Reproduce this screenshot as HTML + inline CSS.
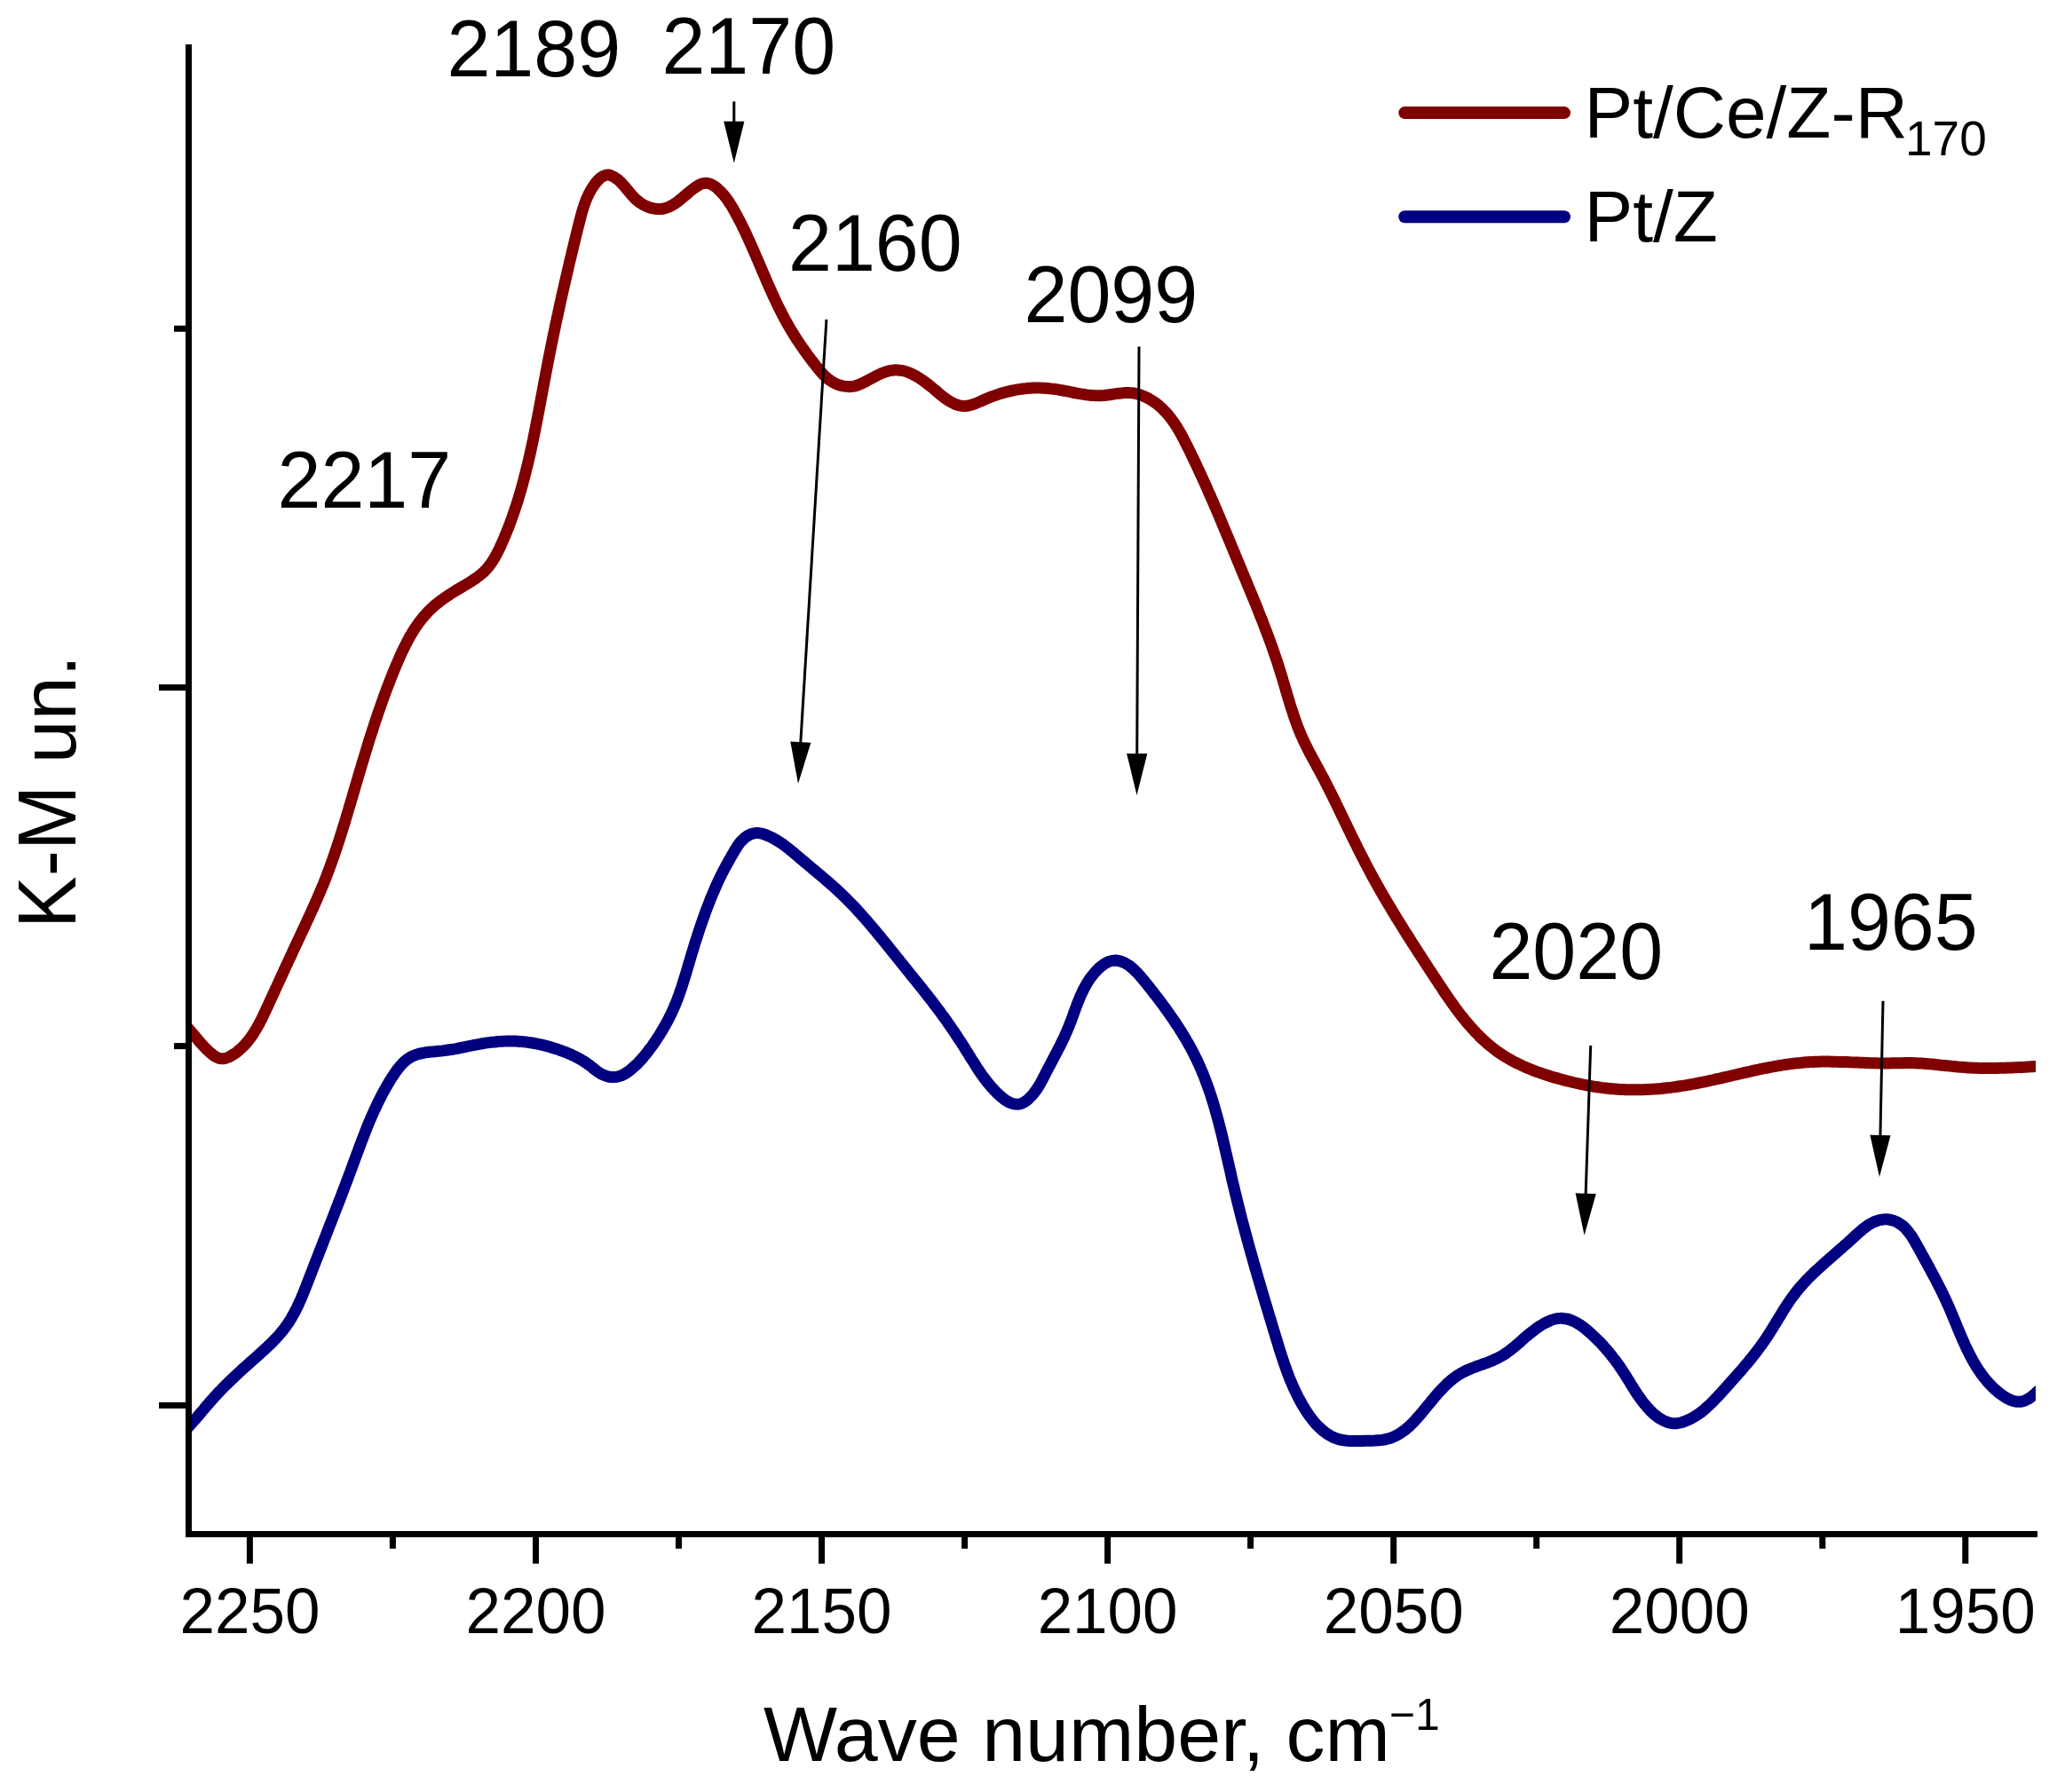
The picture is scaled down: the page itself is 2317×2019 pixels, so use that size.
<!DOCTYPE html>
<html lang="en"><head><meta charset="utf-8"><title>DRIFTS spectra</title>
<style>
html,body{margin:0;padding:0;background:#fff;}
svg{display:block;}
text{font-family:"Liberation Sans",Arial,Helvetica,sans-serif;fill:#000;}
</style></head><body>
<svg width="2317" height="2019" viewBox="0 0 2317 2019">
<rect x="0" y="0" width="2317" height="2019" fill="#fff"/>
<defs><clipPath id="plot"><rect x="213" y="0" width="2080" height="1728"/></clipPath></defs>

<g clip-path="url(#plot)" fill="none" stroke-width="13" stroke-linejoin="round">
<path d="M200.0 1147.1C200.5 1147.5 202.1 1148.8 203.1 1149.7C204.1 1150.6 205.0 1151.5 206.0 1152.5C207.0 1153.4 207.9 1154.3 208.8 1155.3C209.7 1156.2 210.6 1157.2 211.5 1158.2C212.4 1159.2 213.3 1160.1 214.2 1161.1C215.0 1162.1 215.9 1163.1 216.7 1164.1C217.6 1165.2 218.5 1166.2 219.3 1167.2C220.2 1168.2 221.0 1169.2 221.9 1170.2C222.8 1171.3 223.6 1172.3 224.5 1173.3C225.4 1174.3 226.3 1175.3 227.2 1176.4C228.1 1177.4 229.1 1178.4 230.0 1179.4C231.0 1180.4 231.9 1181.4 232.9 1182.4C233.9 1183.4 235.0 1184.4 236.0 1185.4C237.1 1186.3 238.2 1187.3 239.3 1188.1C240.4 1189.0 241.5 1189.8 242.7 1190.4C243.8 1191.1 245.0 1191.7 246.2 1192.1C247.3 1192.5 248.5 1192.7 249.8 1192.8C251.0 1192.9 252.2 1192.7 253.4 1192.5C254.7 1192.2 255.9 1191.8 257.1 1191.2C258.3 1190.7 259.5 1190.1 260.7 1189.4C261.9 1188.7 263.0 1187.9 264.2 1187.2C265.3 1186.4 266.4 1185.6 267.4 1184.8C268.5 1183.9 269.5 1183.1 270.5 1182.2C271.5 1181.3 272.5 1180.4 273.4 1179.5C274.3 1178.6 275.3 1177.6 276.1 1176.6C277.0 1175.6 277.9 1174.6 278.7 1173.6C279.6 1172.6 280.4 1171.6 281.2 1170.5C282.0 1169.4 282.8 1168.4 283.5 1167.3C284.3 1166.2 285.0 1165.1 285.8 1163.9C286.5 1162.8 287.2 1161.7 287.9 1160.5C288.6 1159.4 289.2 1158.2 289.9 1157.0C290.6 1155.9 291.2 1154.7 291.9 1153.5C292.5 1152.3 293.1 1151.1 293.7 1149.9C294.3 1148.7 295.0 1147.5 295.6 1146.2C296.2 1145.0 296.7 1143.8 297.3 1142.6C297.9 1141.3 298.5 1140.1 299.1 1138.9C299.6 1137.7 300.2 1136.4 300.8 1135.2C301.4 1134.0 301.9 1132.7 302.5 1131.5C303.1 1130.3 303.6 1129.1 304.2 1127.8C304.7 1126.6 305.3 1125.4 305.9 1124.2C306.4 1122.9 307.0 1121.7 307.5 1120.5C308.1 1119.3 308.7 1118.1 309.2 1116.8C309.8 1115.6 310.3 1114.4 310.9 1113.2C311.5 1112.0 312.0 1110.8 312.6 1109.6C313.1 1108.3 313.7 1107.1 314.2 1105.9C314.8 1104.7 315.3 1103.5 315.9 1102.3C316.5 1101.1 317.0 1099.9 317.6 1098.7C318.1 1097.5 318.7 1096.3 319.2 1095.1C319.8 1093.8 320.3 1092.6 320.9 1091.4C321.4 1090.2 322.0 1089.0 322.5 1087.8C323.1 1086.6 323.7 1085.4 324.2 1084.2C324.8 1083.0 325.3 1081.8 325.9 1080.6C326.4 1079.4 327.0 1078.2 327.6 1077.0C328.1 1075.8 328.7 1074.6 329.2 1073.4C329.8 1072.2 330.4 1071.0 330.9 1069.7C331.5 1068.5 332.0 1067.3 332.6 1066.1C333.2 1064.9 333.7 1063.7 334.3 1062.5C334.9 1061.3 335.4 1060.1 336.0 1058.9C336.6 1057.7 337.1 1056.5 337.7 1055.3C338.3 1054.1 338.8 1052.9 339.4 1051.6C340.0 1050.4 340.5 1049.2 341.1 1048.0C341.7 1046.8 342.2 1045.6 342.8 1044.4C343.4 1043.2 343.9 1042.0 344.5 1040.7C345.1 1039.5 345.6 1038.3 346.2 1037.1C346.7 1035.9 347.3 1034.7 347.9 1033.5C348.4 1032.2 349.0 1031.0 349.5 1029.8C350.1 1028.6 350.7 1027.4 351.2 1026.1C351.8 1024.9 352.3 1023.7 352.9 1022.5C353.4 1021.3 354.0 1020.0 354.5 1018.8C355.0 1017.6 355.6 1016.4 356.1 1015.1C356.7 1013.9 357.2 1012.7 357.7 1011.5C358.3 1010.2 358.8 1009.0 359.3 1007.8C359.9 1006.5 360.4 1005.3 360.9 1004.1C361.4 1002.8 361.9 1001.6 362.4 1000.4C363.0 999.1 363.5 997.9 364.0 996.7C364.5 995.4 365.0 994.2 365.5 992.9C366.0 991.7 366.5 990.4 367.0 989.2C367.5 988.0 367.9 986.7 368.4 985.5C368.9 984.2 369.4 983.0 369.8 981.7C370.3 980.5 370.8 979.2 371.2 978.0C371.7 976.7 372.2 975.4 372.6 974.2C373.1 972.9 373.5 971.7 374.0 970.4C374.4 969.2 374.9 967.9 375.3 966.6C375.8 965.4 376.2 964.1 376.6 962.9C377.1 961.6 377.5 960.3 377.9 959.1C378.3 957.8 378.8 956.5 379.2 955.3C379.6 954.0 380.0 952.7 380.4 951.5C380.9 950.2 381.3 948.9 381.7 947.6C382.1 946.4 382.5 945.1 382.9 943.8C383.3 942.6 383.7 941.3 384.1 940.0C384.5 938.7 384.9 937.5 385.3 936.2C385.7 934.9 386.1 933.6 386.5 932.4C386.9 931.1 387.3 929.8 387.7 928.5C388.1 927.2 388.5 926.0 388.9 924.7C389.2 923.4 389.6 922.1 390.0 920.8C390.4 919.6 390.8 918.3 391.2 917.0C391.5 915.7 391.9 914.4 392.3 913.2C392.7 911.9 393.1 910.6 393.4 909.3C393.8 908.0 394.2 906.8 394.6 905.5C395.0 904.2 395.3 902.9 395.7 901.6C396.1 900.3 396.5 899.1 396.9 897.8C397.2 896.5 397.6 895.2 398.0 893.9C398.4 892.7 398.7 891.4 399.1 890.1C399.5 888.8 399.9 887.5 400.2 886.2C400.6 885.0 401.0 883.7 401.4 882.4C401.7 881.1 402.1 879.8 402.5 878.5C402.9 877.3 403.3 876.0 403.6 874.7C404.0 873.4 404.4 872.1 404.8 870.9C405.2 869.6 405.5 868.3 405.9 867.0C406.3 865.7 406.7 864.5 407.1 863.2C407.4 861.9 407.8 860.6 408.2 859.3C408.6 858.1 409.0 856.8 409.4 855.5C409.8 854.2 410.1 852.9 410.5 851.7C410.9 850.4 411.3 849.1 411.7 847.8C412.1 846.5 412.5 845.3 412.9 844.0C413.3 842.7 413.6 841.4 414.0 840.2C414.4 838.9 414.8 837.6 415.2 836.3C415.6 835.1 416.0 833.8 416.4 832.5C416.8 831.2 417.2 830.0 417.6 828.7C418.0 827.4 418.4 826.1 418.9 824.9C419.3 823.6 419.7 822.3 420.1 821.1C420.5 819.8 420.9 818.5 421.3 817.2C421.7 816.0 422.2 814.7 422.6 813.4C423.0 812.2 423.4 810.9 423.8 809.6C424.3 808.4 424.7 807.1 425.1 805.8C425.5 804.6 426.0 803.3 426.4 802.0C426.8 800.8 427.3 799.5 427.7 798.3C428.2 797.0 428.6 795.7 429.0 794.5C429.5 793.2 429.9 791.9 430.4 790.7C430.8 789.4 431.3 788.2 431.7 786.9C432.2 785.7 432.6 784.4 433.1 783.1C433.6 781.9 434.0 780.6 434.5 779.4C434.9 778.1 435.4 776.9 435.9 775.6C436.4 774.4 436.8 773.1 437.3 771.9C437.8 770.6 438.3 769.4 438.8 768.1C439.2 766.9 439.7 765.6 440.2 764.4C440.7 763.1 441.2 761.9 441.7 760.6C442.2 759.4 442.7 758.2 443.2 756.9C443.7 755.7 444.2 754.4 444.7 753.2C445.2 752.0 445.8 750.7 446.3 749.5C446.8 748.2 447.3 747.0 447.9 745.8C448.4 744.5 448.9 743.3 449.5 742.1C450.0 740.8 450.5 739.6 451.1 738.4C451.6 737.2 452.2 736.0 452.8 734.7C453.3 733.5 453.9 732.3 454.5 731.1C455.1 729.9 455.7 728.7 456.3 727.5C456.9 726.3 457.5 725.1 458.1 724.0C458.7 722.8 459.3 721.6 460.0 720.4C460.6 719.3 461.2 718.1 461.9 716.9C462.5 715.8 463.2 714.7 463.9 713.5C464.6 712.4 465.3 711.3 466.0 710.1C466.7 709.0 467.4 707.9 468.1 706.8C468.9 705.7 469.6 704.6 470.4 703.6C471.1 702.5 471.9 701.4 472.7 700.4C473.5 699.3 474.3 698.3 475.1 697.3C476.0 696.2 476.8 695.2 477.7 694.2C478.5 693.2 479.4 692.2 480.3 691.3C481.2 690.3 482.1 689.3 483.0 688.4C483.9 687.5 484.9 686.5 485.9 685.6C486.8 684.7 487.8 683.8 488.8 682.9C489.8 682.1 490.8 681.2 491.9 680.3C492.9 679.5 494.0 678.7 495.0 677.8C496.1 677.0 497.2 676.2 498.3 675.4C499.4 674.6 500.5 673.8 501.6 673.0C502.8 672.3 503.9 671.5 505.0 670.8C506.2 670.0 507.3 669.2 508.5 668.5C509.6 667.8 510.8 667.0 512.0 666.3C513.1 665.6 514.3 664.9 515.5 664.2C516.7 663.5 517.8 662.8 519.0 662.1C520.2 661.4 521.4 660.7 522.5 660.0C523.7 659.3 524.9 658.6 526.1 657.9C527.2 657.2 528.4 656.5 529.5 655.8C530.7 655.1 531.8 654.3 532.9 653.6C534.0 652.9 535.2 652.1 536.2 651.4C537.3 650.6 538.4 649.8 539.4 649.0C540.5 648.2 541.5 647.4 542.5 646.5C543.5 645.7 544.4 644.8 545.4 643.9C546.3 643.0 547.2 642.0 548.1 641.1C548.9 640.1 549.8 639.1 550.6 638.1C551.4 637.1 552.2 636.0 552.9 635.0C553.7 633.9 554.4 632.8 555.1 631.7C555.9 630.6 556.5 629.4 557.2 628.3C557.9 627.2 558.5 626.0 559.2 624.8C559.8 623.6 560.4 622.4 561.0 621.2C561.6 620.0 562.2 618.8 562.8 617.6C563.4 616.4 563.9 615.2 564.5 613.9C565.0 612.7 565.6 611.5 566.1 610.2C566.7 609.0 567.2 607.8 567.7 606.5C568.2 605.3 568.8 604.0 569.3 602.8C569.8 601.5 570.3 600.3 570.8 599.1C571.3 597.8 571.8 596.6 572.3 595.3C572.8 594.1 573.3 592.8 573.7 591.6C574.2 590.3 574.7 589.0 575.1 587.8C575.6 586.5 576.1 585.3 576.5 584.0C577.0 582.7 577.4 581.5 577.9 580.2C578.3 579.0 578.7 577.7 579.2 576.4C579.6 575.2 580.0 573.9 580.4 572.6C580.9 571.4 581.3 570.1 581.7 568.8C582.1 567.5 582.5 566.3 582.9 565.0C583.3 563.7 583.7 562.4 584.1 561.2C584.5 559.9 584.8 558.6 585.2 557.3C585.6 556.0 586.0 554.8 586.4 553.5C586.7 552.2 587.1 550.9 587.5 549.6C587.8 548.3 588.2 547.0 588.5 545.8C588.9 544.5 589.2 543.2 589.6 541.9C589.9 540.6 590.3 539.3 590.6 538.0C590.9 536.7 591.3 535.4 591.6 534.1C591.9 532.8 592.3 531.6 592.6 530.3C592.9 529.0 593.2 527.7 593.5 526.4C593.9 525.1 594.2 523.8 594.5 522.5C594.8 521.2 595.1 519.9 595.4 518.6C595.7 517.3 596.0 516.0 596.3 514.7C596.6 513.4 596.9 512.1 597.2 510.8C597.5 509.5 597.8 508.1 598.1 506.8C598.3 505.5 598.6 504.2 598.9 502.9C599.2 501.6 599.5 500.3 599.7 499.0C600.0 497.7 600.3 496.4 600.6 495.1C600.8 493.8 601.1 492.5 601.4 491.1C601.6 489.8 601.9 488.5 602.2 487.2C602.4 485.9 602.7 484.6 603.0 483.3C603.2 482.0 603.5 480.7 603.7 479.3C604.0 478.0 604.3 476.7 604.5 475.4C604.8 474.1 605.0 472.8 605.3 471.5C605.5 470.2 605.8 468.8 606.0 467.5C606.3 466.2 606.5 464.9 606.8 463.6C607.0 462.3 607.3 461.0 607.5 459.6C607.8 458.3 608.0 457.0 608.3 455.7C608.5 454.4 608.8 453.1 609.0 451.8C609.2 450.4 609.5 449.1 609.7 447.8C610.0 446.5 610.2 445.2 610.5 443.9C610.7 442.5 611.0 441.2 611.2 439.9C611.5 438.6 611.7 437.3 611.9 436.0C612.2 434.7 612.4 433.3 612.7 432.0C612.9 430.7 613.2 429.4 613.4 428.1C613.7 426.8 613.9 425.5 614.2 424.2C614.4 422.8 614.7 421.5 614.9 420.2C615.1 418.9 615.4 417.6 615.7 416.3C615.9 415.0 616.2 413.7 616.4 412.3C616.7 411.0 616.9 409.7 617.2 408.4C617.4 407.1 617.7 405.8 617.9 404.5C618.2 403.2 618.5 401.9 618.7 400.6C619.0 399.3 619.2 397.9 619.5 396.6C619.8 395.3 620.0 394.0 620.3 392.7C620.5 391.4 620.8 390.1 621.1 388.8C621.3 387.5 621.6 386.2 621.9 384.9C622.1 383.6 622.4 382.3 622.7 381.0C622.9 379.6 623.2 378.3 623.5 377.0C623.8 375.7 624.0 374.4 624.3 373.1C624.6 371.8 624.8 370.5 625.1 369.2C625.4 367.9 625.7 366.6 625.9 365.3C626.2 364.0 626.5 362.7 626.8 361.4C627.1 360.1 627.3 358.8 627.6 357.5C627.9 356.2 628.2 354.9 628.5 353.6C628.7 352.3 629.0 351.0 629.3 349.7C629.6 348.4 629.9 347.0 630.2 345.7C630.4 344.4 630.7 343.1 631.0 341.8C631.3 340.5 631.6 339.2 631.9 337.9C632.2 336.6 632.5 335.3 632.7 334.0C633.0 332.7 633.3 331.4 633.6 330.1C633.9 328.8 634.2 327.5 634.5 326.2C634.8 324.9 635.1 323.6 635.4 322.3C635.7 321.0 636.0 319.7 636.3 318.4C636.6 317.1 636.9 315.8 637.2 314.5C637.5 313.2 637.8 311.9 638.1 310.6C638.4 309.3 638.7 308.0 639.0 306.7C639.3 305.4 639.6 304.1 639.9 302.8C640.2 301.5 640.5 300.2 640.8 298.9C641.1 297.6 641.4 296.3 641.7 294.9C642.0 293.6 642.3 292.3 642.7 291.0C643.0 289.7 643.3 288.4 643.6 287.1C643.9 285.8 644.2 284.5 644.5 283.2C644.8 281.9 645.2 280.6 645.5 279.3C645.8 278.0 646.1 276.7 646.4 275.4C646.7 274.1 647.0 272.8 647.4 271.5C647.7 270.2 648.0 268.9 648.3 267.6C648.6 266.3 649.0 265.0 649.3 263.6C649.6 262.3 649.9 261.0 650.2 259.7C650.6 258.4 650.9 257.1 651.2 255.8C651.5 254.5 651.9 253.2 652.2 251.9C652.5 250.6 652.8 249.3 653.2 248.0C653.5 246.7 653.8 245.4 654.2 244.1C654.5 242.8 654.9 241.5 655.2 240.2C655.6 238.9 656.0 237.6 656.4 236.3C656.8 235.0 657.1 233.7 657.6 232.5C658.0 231.2 658.4 229.9 658.9 228.7C659.3 227.4 659.8 226.2 660.3 224.9C660.8 223.7 661.3 222.5 661.9 221.3C662.5 220.0 663.0 218.8 663.7 217.7C664.3 216.5 664.9 215.3 665.6 214.1C666.3 213.0 667.0 211.8 667.7 210.7C668.5 209.6 669.3 208.5 670.1 207.4C670.9 206.3 671.8 205.2 672.7 204.2C673.6 203.1 674.6 202.1 675.6 201.2C676.6 200.3 677.6 199.5 678.7 198.9C679.7 198.2 680.8 197.7 681.9 197.4C683.1 197.1 684.2 197.0 685.4 197.1C686.5 197.2 687.8 197.6 688.9 198.1C690.1 198.5 691.2 199.2 692.3 199.8C693.5 200.5 694.5 201.3 695.5 202.1C696.6 202.9 697.5 203.8 698.5 204.7C699.5 205.6 700.4 206.6 701.3 207.6C702.2 208.5 703.1 209.6 704.0 210.6C704.8 211.6 705.7 212.7 706.6 213.8C707.4 214.8 708.3 215.9 709.2 216.9C710.1 218.0 711.0 219.1 711.9 220.1C712.8 221.1 713.8 222.1 714.7 223.1C715.7 224.1 716.7 225.0 717.8 225.9C718.8 226.8 719.9 227.7 721.1 228.5C722.2 229.3 723.4 230.0 724.7 230.7C725.9 231.4 727.2 232.0 728.5 232.5C729.8 233.1 731.1 233.6 732.4 234.0C733.7 234.4 735.1 234.7 736.4 235.0C737.7 235.2 739.1 235.4 740.4 235.5C741.7 235.5 743.0 235.6 744.3 235.5C745.5 235.4 746.8 235.2 748.0 234.9C749.2 234.7 750.4 234.3 751.5 233.9C752.7 233.5 753.8 233.0 755.0 232.4C756.1 231.9 757.2 231.3 758.3 230.6C759.4 229.9 760.5 229.2 761.5 228.5C762.6 227.7 763.7 226.9 764.7 226.1C765.8 225.3 766.8 224.4 767.9 223.5C769.0 222.6 770.0 221.7 771.1 220.8C772.2 219.9 773.2 219.0 774.3 218.1C775.4 217.1 776.5 216.2 777.6 215.3C778.7 214.4 779.8 213.5 781.0 212.6C782.1 211.8 783.3 210.9 784.4 210.2C785.6 209.4 786.7 208.7 787.9 208.2C789.1 207.6 790.3 207.1 791.4 206.8C792.6 206.5 793.8 206.3 795.0 206.3C796.1 206.2 797.3 206.4 798.5 206.7C799.6 207.0 800.8 207.5 801.9 208.1C803.0 208.6 804.1 209.4 805.2 210.1C806.3 210.9 807.4 211.8 808.4 212.7C809.5 213.6 810.5 214.6 811.5 215.6C812.4 216.6 813.4 217.7 814.3 218.7C815.2 219.7 816.1 220.8 816.9 221.9C817.8 222.9 818.6 224.0 819.4 225.1C820.1 226.2 820.9 227.3 821.6 228.4C822.4 229.6 823.1 230.7 823.8 231.8C824.5 233.0 825.2 234.1 825.9 235.3C826.5 236.4 827.2 237.6 827.8 238.7C828.5 239.9 829.1 241.1 829.7 242.3C830.4 243.4 831.0 244.6 831.6 245.8C832.2 247.0 832.9 248.2 833.5 249.3C834.1 250.5 834.7 251.7 835.3 252.9C835.9 254.1 836.4 255.3 837.0 256.5C837.6 257.7 838.2 258.9 838.8 260.1C839.3 261.3 839.9 262.5 840.5 263.7C841.0 264.9 841.6 266.1 842.2 267.4C842.7 268.6 843.3 269.8 843.8 271.0C844.4 272.2 844.9 273.4 845.5 274.7C846.0 275.9 846.6 277.1 847.1 278.3C847.6 279.6 848.2 280.8 848.7 282.0C849.3 283.2 849.8 284.5 850.3 285.7C850.8 286.9 851.4 288.1 851.9 289.4C852.4 290.6 853.0 291.8 853.5 293.1C854.0 294.3 854.5 295.5 855.1 296.7C855.6 298.0 856.1 299.2 856.6 300.4C857.2 301.7 857.7 302.9 858.2 304.1C858.7 305.4 859.3 306.6 859.8 307.8C860.3 309.1 860.9 310.3 861.4 311.5C861.9 312.7 862.4 314.0 863.0 315.2C863.5 316.4 864.0 317.6 864.6 318.9C865.1 320.1 865.6 321.3 866.2 322.5C866.7 323.8 867.3 325.0 867.8 326.2C868.4 327.4 868.9 328.6 869.5 329.9C870.0 331.1 870.6 332.3 871.1 333.5C871.7 334.7 872.2 335.9 872.8 337.1C873.4 338.3 873.9 339.6 874.5 340.8C875.1 342.0 875.7 343.2 876.2 344.4C876.8 345.6 877.4 346.8 878.0 347.9C878.6 349.1 879.2 350.3 879.8 351.5C880.4 352.7 881.0 353.9 881.6 355.1C882.3 356.3 882.9 357.4 883.5 358.6C884.1 359.8 884.8 360.9 885.4 362.1C886.1 363.3 886.7 364.4 887.4 365.6C888.0 366.8 888.7 367.9 889.3 369.1C890.0 370.2 890.7 371.4 891.4 372.5C892.1 373.6 892.8 374.8 893.5 375.9C894.2 377.0 894.9 378.2 895.6 379.3C896.3 380.4 897.0 381.6 897.8 382.7C898.5 383.8 899.2 384.9 900.0 386.0C900.7 387.1 901.5 388.2 902.2 389.3C903.0 390.4 903.7 391.5 904.5 392.6C905.3 393.7 906.0 394.8 906.8 395.9C907.6 397.0 908.4 398.1 909.2 399.2C910.0 400.3 910.8 401.4 911.6 402.4C912.4 403.5 913.2 404.6 914.0 405.7C914.8 406.7 915.6 407.8 916.5 408.9C917.3 410.0 918.1 411.0 919.0 412.1C919.8 413.1 920.6 414.2 921.5 415.2C922.3 416.3 923.2 417.3 924.1 418.3C925.0 419.4 925.9 420.4 926.8 421.3C927.7 422.3 928.6 423.2 929.6 424.1C930.6 425.0 931.6 425.9 932.6 426.8C933.6 427.6 934.7 428.4 935.8 429.1C936.9 429.9 938.1 430.5 939.2 431.2C940.4 431.8 941.6 432.4 942.9 432.9C944.1 433.4 945.4 433.9 946.7 434.2C948.0 434.6 949.3 434.9 950.7 435.2C952.0 435.4 953.3 435.6 954.6 435.6C955.9 435.7 957.2 435.7 958.5 435.6C959.8 435.5 961.1 435.3 962.3 435.1C963.6 434.8 964.8 434.4 966.0 434.0C967.2 433.6 968.4 433.1 969.6 432.6C970.8 432.0 972.0 431.4 973.2 430.8C974.4 430.2 975.7 429.6 976.9 428.9C978.1 428.3 979.3 427.6 980.6 426.9C981.8 426.2 983.1 425.6 984.4 424.9C985.6 424.2 986.9 423.6 988.2 422.9C989.5 422.3 990.7 421.7 992.0 421.1C993.3 420.6 994.6 420.0 995.9 419.6C997.1 419.1 998.4 418.6 999.7 418.3C1001.0 417.9 1002.2 417.6 1003.5 417.4C1004.8 417.2 1006.0 417.0 1007.3 416.9C1008.5 416.8 1009.7 416.8 1011.0 416.9C1012.2 417.0 1013.4 417.1 1014.6 417.3C1015.9 417.5 1017.1 417.7 1018.3 418.0C1019.5 418.3 1020.7 418.7 1021.9 419.1C1023.1 419.5 1024.2 420.0 1025.4 420.5C1026.6 421.0 1027.8 421.6 1028.9 422.2C1030.1 422.7 1031.3 423.4 1032.4 424.1C1033.6 424.7 1034.7 425.5 1035.9 426.2C1037.0 427.0 1038.2 427.7 1039.3 428.5C1040.4 429.3 1041.6 430.2 1042.7 431.0C1043.8 431.9 1044.9 432.7 1046.1 433.6C1047.2 434.5 1048.3 435.4 1049.4 436.3C1050.5 437.3 1051.6 438.2 1052.8 439.1C1053.9 440.1 1055.0 441.0 1056.1 441.9C1057.2 442.8 1058.3 443.8 1059.4 444.7C1060.5 445.5 1061.6 446.4 1062.7 447.3C1063.9 448.1 1065.0 449.0 1066.1 449.7C1067.2 450.5 1068.3 451.3 1069.5 452.0C1070.6 452.7 1071.7 453.3 1072.9 453.9C1074.0 454.5 1075.1 455.0 1076.3 455.5C1077.5 455.9 1078.6 456.3 1079.8 456.6C1081.0 456.9 1082.1 457.2 1083.3 457.3C1084.5 457.5 1085.7 457.5 1087.0 457.5C1088.2 457.4 1089.4 457.3 1090.6 457.0C1091.9 456.8 1093.1 456.5 1094.4 456.1C1095.6 455.8 1096.9 455.3 1098.2 454.9C1099.5 454.4 1100.7 453.8 1102.0 453.3C1103.3 452.8 1104.6 452.2 1105.9 451.6C1107.2 451.1 1108.5 450.5 1109.7 449.9C1111.0 449.4 1112.3 448.8 1113.6 448.3C1114.9 447.7 1116.2 447.2 1117.5 446.8C1118.8 446.3 1120.1 445.8 1121.4 445.3C1122.6 444.9 1123.9 444.5 1125.2 444.0C1126.5 443.6 1127.8 443.2 1129.1 442.8C1130.4 442.5 1131.7 442.1 1132.9 441.8C1134.2 441.4 1135.5 441.1 1136.8 440.8C1138.1 440.5 1139.4 440.2 1140.7 439.9C1142.0 439.7 1143.3 439.4 1144.5 439.2C1145.8 439.0 1147.1 438.8 1148.4 438.6C1149.7 438.4 1151.0 438.2 1152.3 438.0C1153.6 437.9 1154.9 437.8 1156.2 437.6C1157.5 437.5 1158.8 437.4 1160.1 437.3C1161.3 437.3 1162.6 437.2 1163.9 437.1C1165.2 437.1 1166.5 437.1 1167.8 437.1C1169.1 437.1 1170.4 437.1 1171.8 437.1C1173.1 437.1 1174.4 437.2 1175.7 437.2C1177.0 437.3 1178.3 437.4 1179.6 437.5C1180.9 437.6 1182.2 437.7 1183.5 437.9C1184.8 438.0 1186.2 438.2 1187.5 438.3C1188.8 438.5 1190.1 438.7 1191.4 438.9C1192.8 439.1 1194.1 439.4 1195.4 439.6C1196.7 439.9 1198.1 440.1 1199.4 440.4C1200.7 440.6 1202.1 440.9 1203.4 441.2C1204.7 441.4 1206.1 441.7 1207.4 442.0C1208.7 442.2 1210.1 442.5 1211.4 442.8C1212.7 443.0 1214.1 443.3 1215.4 443.5C1216.7 443.8 1218.1 444.0 1219.4 444.2C1220.8 444.4 1222.1 444.6 1223.4 444.8C1224.8 445.0 1226.1 445.2 1227.4 445.3C1228.8 445.4 1230.1 445.5 1231.5 445.6C1232.8 445.7 1234.1 445.8 1235.5 445.8C1236.8 445.8 1238.1 445.8 1239.5 445.7C1240.8 445.7 1242.1 445.6 1243.5 445.5C1244.8 445.3 1246.1 445.2 1247.5 445.0C1248.8 444.8 1250.1 444.7 1251.4 444.5C1252.8 444.3 1254.1 444.1 1255.4 443.9C1256.7 443.7 1258.1 443.5 1259.4 443.3C1260.7 443.1 1262.0 443.0 1263.3 442.9C1264.7 442.7 1266.0 442.6 1267.3 442.6C1268.6 442.5 1269.9 442.5 1271.2 442.5C1272.5 442.5 1273.8 442.6 1275.1 442.8C1276.5 442.9 1277.8 443.1 1279.1 443.4C1280.4 443.7 1281.6 444.0 1282.9 444.4C1284.2 444.8 1285.5 445.2 1286.8 445.7C1288.0 446.2 1289.3 446.8 1290.5 447.4C1291.8 447.9 1293.0 448.6 1294.2 449.3C1295.4 449.9 1296.6 450.7 1297.8 451.4C1298.9 452.2 1300.1 452.9 1301.2 453.8C1302.3 454.6 1303.4 455.4 1304.5 456.3C1305.6 457.2 1306.6 458.1 1307.6 459.0C1308.6 459.9 1309.6 460.8 1310.5 461.8C1311.5 462.7 1312.4 463.7 1313.3 464.7C1314.2 465.6 1315.1 466.6 1316.0 467.7C1316.8 468.7 1317.6 469.7 1318.5 470.8C1319.3 471.8 1320.1 472.9 1320.8 474.0C1321.6 475.0 1322.3 476.1 1323.1 477.2C1323.8 478.3 1324.5 479.4 1325.2 480.6C1325.9 481.7 1326.6 482.8 1327.3 483.9C1328.0 485.1 1328.6 486.2 1329.3 487.4C1330.0 488.6 1330.6 489.7 1331.2 490.9C1331.9 492.1 1332.5 493.2 1333.1 494.4C1333.7 495.6 1334.3 496.8 1334.9 498.0C1335.5 499.2 1336.1 500.3 1336.7 501.5C1337.3 502.7 1337.9 503.9 1338.5 505.1C1339.1 506.3 1339.7 507.5 1340.3 508.7C1340.9 509.9 1341.5 511.1 1342.0 512.3C1342.6 513.5 1343.2 514.7 1343.8 515.9C1344.4 517.1 1344.9 518.3 1345.5 519.5C1346.1 520.7 1346.6 521.9 1347.2 523.1C1347.8 524.3 1348.4 525.6 1348.9 526.8C1349.5 528.0 1350.1 529.2 1350.6 530.4C1351.2 531.6 1351.7 532.8 1352.3 534.0C1352.8 535.2 1353.4 536.5 1354.0 537.7C1354.5 538.9 1355.1 540.1 1355.6 541.3C1356.2 542.5 1356.7 543.8 1357.3 545.0C1357.8 546.2 1358.4 547.4 1358.9 548.6C1359.4 549.8 1360.0 551.1 1360.5 552.3C1361.1 553.5 1361.6 554.7 1362.1 556.0C1362.7 557.2 1363.2 558.4 1363.8 559.6C1364.3 560.9 1364.8 562.1 1365.4 563.3C1365.9 564.5 1366.4 565.8 1367.0 567.0C1367.5 568.2 1368.0 569.4 1368.5 570.7C1369.1 571.9 1369.6 573.1 1370.1 574.3C1370.7 575.6 1371.2 576.8 1371.7 578.0C1372.2 579.3 1372.7 580.5 1373.3 581.7C1373.8 583.0 1374.3 584.2 1374.8 585.4C1375.4 586.7 1375.9 587.9 1376.4 589.1C1376.9 590.4 1377.4 591.6 1377.9 592.8C1378.5 594.0 1379.0 595.3 1379.5 596.5C1380.0 597.8 1380.5 599.0 1381.0 600.2C1381.6 601.5 1382.1 602.7 1382.6 603.9C1383.1 605.2 1383.6 606.4 1384.1 607.6C1384.6 608.9 1385.2 610.1 1385.7 611.3C1386.2 612.6 1386.7 613.8 1387.2 615.0C1387.7 616.3 1388.2 617.5 1388.7 618.7C1389.3 620.0 1389.8 621.2 1390.3 622.5C1390.8 623.7 1391.3 624.9 1391.8 626.2C1392.3 627.4 1392.8 628.6 1393.3 629.9C1393.9 631.1 1394.4 632.3 1394.9 633.6C1395.4 634.8 1395.9 636.0 1396.4 637.3C1396.9 638.5 1397.4 639.7 1397.9 641.0C1398.5 642.2 1399.0 643.4 1399.5 644.7C1400.0 645.9 1400.5 647.1 1401.0 648.4C1401.5 649.6 1402.0 650.8 1402.6 652.1C1403.1 653.3 1403.6 654.6 1404.1 655.8C1404.6 657.0 1405.1 658.3 1405.6 659.5C1406.1 660.7 1406.7 662.0 1407.2 663.2C1407.7 664.4 1408.2 665.7 1408.7 666.9C1409.2 668.1 1409.7 669.4 1410.2 670.6C1410.7 671.8 1411.2 673.1 1411.7 674.3C1412.2 675.5 1412.7 676.8 1413.3 678.0C1413.8 679.2 1414.3 680.5 1414.8 681.7C1415.3 683.0 1415.8 684.2 1416.3 685.4C1416.8 686.7 1417.3 687.9 1417.7 689.1C1418.2 690.4 1418.7 691.6 1419.2 692.9C1419.7 694.1 1420.2 695.3 1420.7 696.6C1421.2 697.8 1421.7 699.1 1422.2 700.3C1422.6 701.6 1423.1 702.8 1423.6 704.0C1424.1 705.3 1424.6 706.5 1425.0 707.8C1425.5 709.0 1426.0 710.3 1426.5 711.5C1426.9 712.8 1427.4 714.0 1427.9 715.3C1428.3 716.5 1428.8 717.8 1429.3 719.0C1429.7 720.3 1430.2 721.5 1430.7 722.8C1431.1 724.0 1431.6 725.3 1432.0 726.5C1432.5 727.8 1432.9 729.1 1433.4 730.3C1433.8 731.6 1434.2 732.8 1434.7 734.1C1435.1 735.4 1435.6 736.6 1436.0 737.9C1436.4 739.1 1436.9 740.4 1437.3 741.7C1437.7 742.9 1438.1 744.2 1438.6 745.5C1439.0 746.7 1439.4 748.0 1439.8 749.3C1440.2 750.6 1440.6 751.8 1441.0 753.1C1441.4 754.4 1441.8 755.7 1442.2 756.9C1442.6 758.2 1443.0 759.5 1443.4 760.8C1443.8 762.0 1444.2 763.3 1444.6 764.6C1444.9 765.9 1445.3 767.2 1445.7 768.5C1446.1 769.7 1446.5 771.0 1446.8 772.3C1447.2 773.6 1447.6 774.9 1448.0 776.2C1448.3 777.5 1448.7 778.7 1449.1 780.0C1449.5 781.3 1449.9 782.6 1450.2 783.9C1450.6 785.2 1451.0 786.4 1451.4 787.7C1451.8 789.0 1452.2 790.3 1452.6 791.6C1452.9 792.9 1453.3 794.1 1453.7 795.4C1454.1 796.7 1454.5 798.0 1454.9 799.2C1455.4 800.5 1455.8 801.8 1456.2 803.0C1456.6 804.3 1457.0 805.6 1457.5 806.9C1457.9 808.1 1458.3 809.4 1458.8 810.6C1459.2 811.9 1459.7 813.2 1460.1 814.4C1460.6 815.7 1461.1 816.9 1461.5 818.2C1462.0 819.4 1462.5 820.7 1463.0 821.9C1463.5 823.1 1464.0 824.4 1464.5 825.6C1465.0 826.8 1465.5 828.1 1466.1 829.3C1466.6 830.5 1467.2 831.7 1467.7 832.9C1468.3 834.2 1468.9 835.4 1469.4 836.6C1470.0 837.8 1470.6 839.0 1471.2 840.2C1471.8 841.4 1472.4 842.6 1473.0 843.8C1473.6 845.0 1474.2 846.2 1474.8 847.4C1475.5 848.5 1476.1 849.7 1476.7 850.9C1477.3 852.1 1478.0 853.3 1478.6 854.5C1479.2 855.6 1479.9 856.8 1480.5 858.0C1481.2 859.2 1481.8 860.4 1482.4 861.5C1483.1 862.7 1483.7 863.9 1484.4 865.1C1485.0 866.2 1485.6 867.4 1486.3 868.6C1486.9 869.8 1487.6 870.9 1488.2 872.1C1488.8 873.3 1489.4 874.5 1490.1 875.7C1490.7 876.8 1491.3 878.0 1491.9 879.2C1492.5 880.4 1493.1 881.6 1493.7 882.7C1494.3 883.9 1494.9 885.1 1495.5 886.3C1496.1 887.5 1496.7 888.6 1497.3 889.8C1497.9 891.0 1498.5 892.2 1499.1 893.4C1499.7 894.6 1500.3 895.8 1500.9 896.9C1501.5 898.1 1502.1 899.3 1502.6 900.5C1503.2 901.7 1503.8 902.9 1504.4 904.1C1505.0 905.3 1505.5 906.5 1506.1 907.7C1506.7 908.9 1507.3 910.1 1507.9 911.3C1508.4 912.5 1509.0 913.7 1509.6 914.9C1510.2 916.1 1510.8 917.3 1511.3 918.5C1511.9 919.7 1512.5 920.9 1513.1 922.1C1513.7 923.3 1514.2 924.5 1514.8 925.7C1515.4 926.9 1516.0 928.1 1516.6 929.3C1517.2 930.6 1517.7 931.8 1518.3 933.0C1518.9 934.2 1519.5 935.4 1520.1 936.6C1520.7 937.8 1521.3 939.0 1521.8 940.3C1522.4 941.5 1523.0 942.7 1523.6 943.9C1524.2 945.1 1524.8 946.3 1525.4 947.5C1526.0 948.7 1526.6 950.0 1527.2 951.2C1527.8 952.4 1528.4 953.6 1529.0 954.8C1529.6 956.0 1530.2 957.2 1530.8 958.4C1531.4 959.6 1532.0 960.8 1532.6 962.0C1533.2 963.2 1533.8 964.4 1534.5 965.6C1535.1 966.8 1535.7 968.0 1536.3 969.2C1536.9 970.4 1537.5 971.6 1538.1 972.8C1538.8 974.0 1539.4 975.2 1540.0 976.4C1540.6 977.6 1541.3 978.8 1541.9 979.9C1542.5 981.1 1543.2 982.3 1543.8 983.5C1544.4 984.7 1545.1 985.8 1545.7 987.0C1546.3 988.2 1547.0 989.3 1547.6 990.5C1548.3 991.7 1548.9 992.8 1549.6 994.0C1550.2 995.2 1550.9 996.3 1551.5 997.5C1552.2 998.7 1552.8 999.8 1553.5 1001.0C1554.1 1002.1 1554.8 1003.3 1555.4 1004.4C1556.1 1005.6 1556.8 1006.7 1557.4 1007.9C1558.1 1009.0 1558.8 1010.2 1559.4 1011.3C1560.1 1012.5 1560.8 1013.6 1561.4 1014.8C1562.1 1015.9 1562.8 1017.0 1563.5 1018.2C1564.1 1019.3 1564.8 1020.5 1565.5 1021.6C1566.2 1022.7 1566.9 1023.9 1567.5 1025.0C1568.2 1026.1 1568.9 1027.3 1569.6 1028.4C1570.3 1029.5 1571.0 1030.7 1571.7 1031.8C1572.3 1032.9 1573.0 1034.1 1573.7 1035.2C1574.4 1036.3 1575.1 1037.4 1575.8 1038.6C1576.5 1039.7 1577.2 1040.8 1577.9 1042.0C1578.6 1043.1 1579.3 1044.2 1580.0 1045.3C1580.7 1046.5 1581.4 1047.6 1582.1 1048.7C1582.8 1049.8 1583.5 1050.9 1584.2 1052.1C1584.9 1053.2 1585.7 1054.3 1586.4 1055.4C1587.1 1056.6 1587.8 1057.7 1588.5 1058.8C1589.2 1059.9 1589.9 1061.0 1590.6 1062.2C1591.4 1063.3 1592.1 1064.4 1592.8 1065.5C1593.5 1066.6 1594.2 1067.8 1595.0 1068.9C1595.7 1070.0 1596.4 1071.1 1597.1 1072.2C1597.9 1073.4 1598.6 1074.5 1599.3 1075.6C1600.0 1076.7 1600.8 1077.9 1601.5 1079.0C1602.2 1080.1 1602.9 1081.2 1603.7 1082.3C1604.4 1083.5 1605.1 1084.6 1605.9 1085.7C1606.6 1086.8 1607.3 1088.0 1608.1 1089.1C1608.8 1090.2 1609.5 1091.3 1610.3 1092.5C1611.0 1093.6 1611.8 1094.7 1612.5 1095.9C1613.2 1097.0 1614.0 1098.1 1614.7 1099.3C1615.5 1100.4 1616.2 1101.5 1616.9 1102.6C1617.7 1103.8 1618.4 1104.9 1619.2 1106.0C1619.9 1107.2 1620.7 1108.3 1621.4 1109.4C1622.2 1110.6 1622.9 1111.7 1623.7 1112.8C1624.4 1114.0 1625.2 1115.1 1625.9 1116.2C1626.7 1117.4 1627.4 1118.5 1628.2 1119.6C1629.0 1120.7 1629.7 1121.8 1630.5 1123.0C1631.3 1124.1 1632.1 1125.2 1632.8 1126.3C1633.6 1127.4 1634.4 1128.5 1635.2 1129.6C1636.0 1130.7 1636.7 1131.8 1637.5 1132.9C1638.3 1134.0 1639.1 1135.1 1639.9 1136.2C1640.7 1137.3 1641.5 1138.4 1642.4 1139.5C1643.2 1140.5 1644.0 1141.6 1644.8 1142.7C1645.6 1143.8 1646.5 1144.8 1647.3 1145.9C1648.1 1146.9 1649.0 1148.0 1649.8 1149.0C1650.7 1150.0 1651.5 1151.1 1652.4 1152.1C1653.2 1153.1 1654.1 1154.1 1655.0 1155.2C1655.8 1156.2 1656.7 1157.2 1657.6 1158.2C1658.5 1159.1 1659.4 1160.1 1660.3 1161.1C1661.2 1162.1 1662.1 1163.0 1663.0 1164.0C1663.9 1165.0 1664.9 1165.9 1665.8 1166.8C1666.7 1167.8 1667.7 1168.7 1668.6 1169.6C1669.6 1170.5 1670.5 1171.4 1671.5 1172.3C1672.5 1173.2 1673.4 1174.1 1674.4 1175.0C1675.4 1175.8 1676.4 1176.7 1677.4 1177.5C1678.4 1178.4 1679.4 1179.2 1680.5 1180.0C1681.5 1180.8 1682.5 1181.6 1683.6 1182.4C1684.6 1183.2 1685.7 1184.0 1686.7 1184.8C1687.8 1185.5 1688.9 1186.3 1690.0 1187.0C1691.1 1187.8 1692.2 1188.5 1693.3 1189.2C1694.4 1189.9 1695.5 1190.6 1696.6 1191.3C1697.8 1191.9 1698.9 1192.6 1700.1 1193.3C1701.2 1193.9 1702.4 1194.6 1703.5 1195.2C1704.7 1195.8 1705.9 1196.4 1707.0 1197.1C1708.2 1197.7 1709.4 1198.2 1710.6 1198.8C1711.8 1199.4 1713.0 1200.0 1714.2 1200.5C1715.4 1201.1 1716.7 1201.6 1717.9 1202.2C1719.1 1202.7 1720.3 1203.2 1721.6 1203.8C1722.8 1204.3 1724.1 1204.8 1725.3 1205.3C1726.6 1205.8 1727.8 1206.3 1729.1 1206.7C1730.3 1207.2 1731.6 1207.7 1732.9 1208.1C1734.1 1208.6 1735.4 1209.0 1736.7 1209.5C1738.0 1209.9 1739.2 1210.3 1740.5 1210.8C1741.8 1211.2 1743.1 1211.6 1744.4 1212.0C1745.7 1212.4 1747.0 1212.8 1748.2 1213.2C1749.5 1213.6 1750.8 1214.0 1752.1 1214.3C1753.4 1214.7 1754.7 1215.1 1756.0 1215.4C1757.3 1215.8 1758.6 1216.2 1759.9 1216.5C1761.2 1216.9 1762.6 1217.2 1763.9 1217.5C1765.2 1217.9 1766.5 1218.2 1767.8 1218.5C1769.1 1218.8 1770.4 1219.1 1771.7 1219.5C1773.0 1219.8 1774.3 1220.1 1775.6 1220.3C1776.9 1220.6 1778.2 1220.9 1779.5 1221.2C1780.9 1221.5 1782.2 1221.7 1783.5 1222.0C1784.8 1222.3 1786.1 1222.5 1787.4 1222.8C1788.7 1223.0 1790.0 1223.3 1791.4 1223.5C1792.7 1223.7 1794.0 1223.9 1795.3 1224.2C1796.6 1224.4 1797.9 1224.6 1799.3 1224.8C1800.6 1225.0 1801.9 1225.1 1803.2 1225.3C1804.5 1225.5 1805.8 1225.7 1807.2 1225.8C1808.5 1226.0 1809.8 1226.1 1811.1 1226.3C1812.5 1226.4 1813.8 1226.6 1815.1 1226.7C1816.4 1226.8 1817.8 1226.9 1819.1 1227.0C1820.4 1227.1 1821.7 1227.2 1823.1 1227.3C1824.4 1227.4 1825.7 1227.4 1827.0 1227.5C1828.4 1227.6 1829.7 1227.6 1831.0 1227.7C1832.4 1227.7 1833.7 1227.8 1835.0 1227.8C1836.3 1227.8 1837.7 1227.8 1839.0 1227.8C1840.3 1227.8 1841.7 1227.8 1843.0 1227.8C1844.3 1227.8 1845.7 1227.8 1847.0 1227.8C1848.3 1227.7 1849.7 1227.7 1851.0 1227.7C1852.3 1227.6 1853.7 1227.6 1855.0 1227.5C1856.3 1227.5 1857.7 1227.4 1859.0 1227.3C1860.3 1227.2 1861.7 1227.1 1863.0 1227.1C1864.3 1227.0 1865.7 1226.9 1867.0 1226.8C1868.3 1226.6 1869.6 1226.5 1871.0 1226.4C1872.3 1226.3 1873.6 1226.1 1875.0 1226.0C1876.3 1225.9 1877.6 1225.7 1879.0 1225.6C1880.3 1225.4 1881.6 1225.3 1882.9 1225.1C1884.3 1224.9 1885.6 1224.8 1886.9 1224.6C1888.2 1224.4 1889.6 1224.2 1890.9 1224.0C1892.2 1223.8 1893.5 1223.6 1894.9 1223.4C1896.2 1223.2 1897.5 1223.0 1898.8 1222.8C1900.2 1222.6 1901.5 1222.3 1902.8 1222.1C1904.1 1221.9 1905.4 1221.6 1906.7 1221.4C1908.1 1221.1 1909.4 1220.9 1910.7 1220.6C1912.0 1220.4 1913.3 1220.1 1914.6 1219.9C1915.9 1219.6 1917.3 1219.3 1918.6 1219.1C1919.9 1218.8 1921.2 1218.5 1922.5 1218.3C1923.8 1218.0 1925.1 1217.7 1926.4 1217.4C1927.7 1217.1 1929.0 1216.8 1930.4 1216.5C1931.7 1216.3 1933.0 1216.0 1934.3 1215.7C1935.6 1215.4 1936.9 1215.1 1938.2 1214.8C1939.5 1214.5 1940.8 1214.2 1942.1 1213.9C1943.4 1213.6 1944.7 1213.3 1946.0 1213.0C1947.3 1212.7 1948.6 1212.4 1949.9 1212.1C1951.2 1211.8 1952.5 1211.5 1953.9 1211.2C1955.2 1210.9 1956.5 1210.6 1957.8 1210.2C1959.1 1209.9 1960.4 1209.6 1961.7 1209.3C1963.0 1209.0 1964.3 1208.7 1965.6 1208.4C1966.9 1208.1 1968.2 1207.9 1969.5 1207.6C1970.8 1207.3 1972.1 1207.0 1973.4 1206.7C1974.7 1206.4 1976.0 1206.1 1977.3 1205.8C1978.6 1205.5 1979.9 1205.3 1981.2 1205.0C1982.5 1204.7 1983.9 1204.4 1985.2 1204.2C1986.5 1203.9 1987.8 1203.6 1989.1 1203.4C1990.4 1203.1 1991.7 1202.9 1993.0 1202.6C1994.3 1202.3 1995.6 1202.1 1996.9 1201.9C1998.2 1201.6 1999.6 1201.4 2000.9 1201.2C2002.2 1200.9 2003.5 1200.7 2004.8 1200.5C2006.1 1200.3 2007.4 1200.1 2008.7 1199.9C2010.1 1199.6 2011.4 1199.4 2012.7 1199.3C2014.0 1199.1 2015.3 1198.9 2016.6 1198.7C2018.0 1198.5 2019.3 1198.4 2020.6 1198.2C2021.9 1198.0 2023.2 1197.9 2024.6 1197.8C2025.9 1197.6 2027.2 1197.5 2028.5 1197.4C2029.8 1197.2 2031.2 1197.1 2032.5 1197.0C2033.8 1196.9 2035.2 1196.8 2036.5 1196.7C2037.8 1196.6 2039.1 1196.6 2040.5 1196.5C2041.8 1196.4 2043.1 1196.4 2044.5 1196.3C2045.8 1196.3 2047.2 1196.2 2048.5 1196.2C2049.8 1196.2 2051.2 1196.2 2052.5 1196.1C2053.8 1196.1 2055.2 1196.1 2056.5 1196.1C2057.9 1196.1 2059.2 1196.1 2060.5 1196.1C2061.9 1196.1 2063.2 1196.2 2064.6 1196.2C2065.9 1196.2 2067.3 1196.2 2068.6 1196.3C2070.0 1196.3 2071.3 1196.3 2072.6 1196.4C2074.0 1196.4 2075.3 1196.5 2076.7 1196.5C2078.0 1196.5 2079.4 1196.6 2080.7 1196.6C2082.1 1196.7 2083.4 1196.7 2084.8 1196.8C2086.1 1196.8 2087.4 1196.9 2088.8 1197.0C2090.1 1197.0 2091.5 1197.1 2092.8 1197.1C2094.2 1197.2 2095.5 1197.2 2096.9 1197.3C2098.2 1197.3 2099.6 1197.4 2100.9 1197.4C2102.2 1197.5 2103.6 1197.5 2104.9 1197.6C2106.3 1197.6 2107.6 1197.7 2108.9 1197.7C2110.3 1197.7 2111.6 1197.8 2113.0 1197.8C2114.3 1197.8 2115.6 1197.8 2117.0 1197.9C2118.3 1197.9 2119.7 1197.9 2121.0 1197.9C2122.3 1197.9 2123.7 1197.9 2125.0 1197.9C2126.3 1197.9 2127.7 1197.9 2129.0 1197.9C2130.3 1197.9 2131.7 1197.8 2133.0 1197.8C2134.3 1197.8 2135.6 1197.8 2137.0 1197.8C2138.3 1197.7 2139.6 1197.7 2140.9 1197.7C2142.3 1197.7 2143.6 1197.6 2144.9 1197.6C2146.2 1197.6 2147.6 1197.6 2148.9 1197.6C2150.2 1197.6 2151.6 1197.6 2152.9 1197.6C2154.2 1197.7 2155.5 1197.7 2156.9 1197.7C2158.2 1197.8 2159.5 1197.8 2160.9 1197.9C2162.2 1198.0 2163.5 1198.1 2164.8 1198.1C2166.2 1198.2 2167.5 1198.3 2168.8 1198.4C2170.2 1198.5 2171.5 1198.6 2172.8 1198.7C2174.2 1198.8 2175.5 1199.0 2176.8 1199.1C2178.2 1199.2 2179.5 1199.3 2180.8 1199.5C2182.2 1199.6 2183.5 1199.7 2184.8 1199.9C2186.2 1200.0 2187.5 1200.1 2188.8 1200.3C2190.2 1200.4 2191.5 1200.6 2192.8 1200.7C2194.2 1200.8 2195.5 1201.0 2196.9 1201.1C2198.2 1201.3 2199.5 1201.4 2200.9 1201.5C2202.2 1201.7 2203.5 1201.8 2204.9 1201.9C2206.2 1202.0 2207.5 1202.2 2208.9 1202.3C2210.2 1202.4 2211.5 1202.5 2212.9 1202.6C2214.2 1202.7 2215.6 1202.8 2216.9 1202.9C2218.2 1203.0 2219.6 1203.0 2220.9 1203.1C2222.2 1203.2 2223.6 1203.2 2224.9 1203.3C2226.2 1203.3 2227.6 1203.4 2228.9 1203.4C2230.2 1203.5 2231.6 1203.5 2232.9 1203.5C2234.3 1203.5 2235.6 1203.5 2236.9 1203.5C2238.3 1203.5 2239.6 1203.5 2240.9 1203.5C2242.3 1203.5 2243.6 1203.5 2244.9 1203.5C2246.3 1203.5 2247.6 1203.5 2248.9 1203.4C2250.3 1203.4 2251.6 1203.4 2252.9 1203.3C2254.3 1203.3 2255.6 1203.3 2256.9 1203.2C2258.3 1203.2 2259.6 1203.1 2260.9 1203.1C2262.3 1203.0 2263.6 1203.0 2264.9 1202.9C2266.3 1202.9 2267.6 1202.8 2268.9 1202.7C2270.3 1202.7 2271.6 1202.6 2273.0 1202.6C2274.3 1202.5 2275.6 1202.4 2277.0 1202.4C2278.3 1202.3 2279.6 1202.2 2281.0 1202.2C2282.3 1202.1 2283.6 1202.0 2285.0 1201.9C2286.3 1201.9 2287.6 1201.8 2289.0 1201.7C2290.3 1201.7 2291.6 1201.6 2293.0 1201.5C2294.3 1201.5 2295.7 1201.4 2297.0 1201.3C2298.3 1201.3 2299.7 1201.2 2301.0 1201.2C2302.3 1201.1 2304.3 1201.0 2305.0 1201.0" stroke="#800000"/>
<path d="M200.0 1620.0C200.5 1619.5 201.9 1618.2 202.9 1617.2C203.8 1616.3 204.8 1615.4 205.7 1614.4C206.7 1613.5 207.6 1612.6 208.5 1611.6C209.4 1610.6 210.4 1609.7 211.3 1608.7C212.2 1607.7 213.1 1606.7 214.0 1605.7C214.9 1604.7 215.8 1603.7 216.7 1602.7C217.5 1601.7 218.4 1600.7 219.3 1599.7C220.2 1598.7 221.1 1597.7 221.9 1596.7C222.8 1595.7 223.7 1594.6 224.6 1593.6C225.4 1592.6 226.3 1591.6 227.2 1590.5C228.0 1589.5 228.9 1588.5 229.8 1587.5C230.6 1586.4 231.5 1585.4 232.4 1584.4C233.2 1583.4 234.1 1582.4 235.0 1581.3C235.9 1580.3 236.8 1579.3 237.6 1578.3C238.5 1577.3 239.4 1576.3 240.3 1575.3C241.2 1574.3 242.1 1573.3 243.0 1572.4C243.9 1571.4 244.8 1570.4 245.7 1569.4C246.6 1568.5 247.5 1567.5 248.5 1566.5C249.4 1565.6 250.3 1564.6 251.2 1563.7C252.2 1562.8 253.1 1561.8 254.0 1560.9C255.0 1559.9 255.9 1559.0 256.9 1558.1C257.8 1557.2 258.8 1556.2 259.7 1555.3C260.7 1554.4 261.6 1553.5 262.6 1552.6C263.6 1551.6 264.5 1550.7 265.5 1549.8C266.5 1548.9 267.4 1548.0 268.4 1547.1C269.4 1546.2 270.4 1545.3 271.4 1544.4C272.3 1543.5 273.3 1542.6 274.3 1541.7C275.3 1540.8 276.3 1539.9 277.3 1539.0C278.3 1538.2 279.3 1537.3 280.3 1536.4C281.3 1535.5 282.3 1534.6 283.3 1533.7C284.3 1532.8 285.3 1531.9 286.3 1531.0C287.3 1530.1 288.3 1529.2 289.3 1528.3C290.3 1527.4 291.3 1526.5 292.3 1525.6C293.3 1524.7 294.3 1523.8 295.3 1522.9C296.3 1522.0 297.3 1521.1 298.3 1520.2C299.3 1519.3 300.3 1518.3 301.3 1517.4C302.2 1516.5 303.2 1515.6 304.2 1514.6C305.1 1513.7 306.1 1512.7 307.1 1511.8C308.0 1510.8 308.9 1509.9 309.9 1508.9C310.8 1507.9 311.7 1507.0 312.6 1506.0C313.5 1505.0 314.4 1504.0 315.3 1503.0C316.1 1502.0 317.0 1501.0 317.8 1499.9C318.7 1498.9 319.5 1497.9 320.3 1496.8C321.1 1495.8 321.9 1494.7 322.6 1493.6C323.4 1492.6 324.1 1491.5 324.9 1490.4C325.6 1489.3 326.3 1488.2 327.0 1487.0C327.7 1485.9 328.4 1484.8 329.0 1483.6C329.7 1482.5 330.3 1481.3 330.9 1480.2C331.6 1479.0 332.2 1477.8 332.8 1476.7C333.4 1475.5 334.0 1474.3 334.6 1473.1C335.1 1471.9 335.7 1470.7 336.3 1469.5C336.8 1468.3 337.4 1467.1 337.9 1465.8C338.5 1464.6 339.0 1463.4 339.5 1462.2C340.0 1460.9 340.6 1459.7 341.1 1458.5C341.6 1457.2 342.1 1456.0 342.6 1454.7C343.1 1453.5 343.6 1452.3 344.1 1451.0C344.6 1449.8 345.1 1448.5 345.5 1447.3C346.0 1446.0 346.5 1444.7 347.0 1443.5C347.5 1442.2 348.0 1441.0 348.5 1439.7C348.9 1438.5 349.4 1437.2 349.9 1436.0C350.4 1434.7 350.9 1433.5 351.4 1432.2C351.9 1431.0 352.3 1429.7 352.8 1428.5C353.3 1427.2 353.8 1426.0 354.3 1424.7C354.8 1423.5 355.3 1422.2 355.7 1421.0C356.2 1419.7 356.7 1418.5 357.2 1417.2C357.7 1416.0 358.2 1414.7 358.7 1413.5C359.2 1412.2 359.6 1411.0 360.1 1409.7C360.6 1408.5 361.1 1407.2 361.6 1406.0C362.1 1404.7 362.6 1403.5 363.1 1402.2C363.5 1401.0 364.0 1399.7 364.5 1398.5C365.0 1397.2 365.5 1396.0 366.0 1394.7C366.5 1393.5 366.9 1392.3 367.4 1391.0C367.9 1389.8 368.4 1388.5 368.9 1387.3C369.4 1386.0 369.9 1384.8 370.3 1383.5C370.8 1382.3 371.3 1381.0 371.8 1379.8C372.3 1378.5 372.8 1377.3 373.3 1376.1C373.7 1374.8 374.2 1373.6 374.7 1372.3C375.2 1371.1 375.7 1369.8 376.2 1368.6C376.6 1367.3 377.1 1366.1 377.6 1364.8C378.1 1363.6 378.6 1362.4 379.0 1361.1C379.5 1359.9 380.0 1358.6 380.5 1357.4C381.0 1356.1 381.4 1354.9 381.9 1353.6C382.4 1352.4 382.9 1351.1 383.4 1349.9C383.8 1348.7 384.3 1347.4 384.8 1346.2C385.3 1344.9 385.7 1343.7 386.2 1342.4C386.7 1341.2 387.2 1339.9 387.6 1338.7C388.1 1337.4 388.6 1336.2 389.0 1335.0C389.5 1333.7 390.0 1332.5 390.5 1331.2C390.9 1330.0 391.4 1328.7 391.9 1327.5C392.3 1326.2 392.8 1325.0 393.3 1323.7C393.7 1322.5 394.2 1321.3 394.7 1320.0C395.1 1318.8 395.6 1317.5 396.1 1316.3C396.5 1315.0 397.0 1313.8 397.4 1312.5C397.9 1311.3 398.4 1310.0 398.8 1308.8C399.3 1307.5 399.7 1306.3 400.2 1305.0C400.7 1303.8 401.1 1302.5 401.6 1301.3C402.0 1300.0 402.5 1298.8 403.0 1297.6C403.4 1296.3 403.9 1295.1 404.3 1293.8C404.8 1292.6 405.3 1291.3 405.7 1290.1C406.2 1288.8 406.7 1287.6 407.1 1286.3C407.6 1285.1 408.1 1283.9 408.6 1282.6C409.0 1281.4 409.5 1280.1 410.0 1278.9C410.5 1277.7 411.0 1276.4 411.4 1275.2C411.9 1273.9 412.4 1272.7 412.9 1271.5C413.4 1270.2 413.9 1269.0 414.4 1267.8C414.9 1266.5 415.4 1265.3 415.9 1264.1C416.4 1262.8 417.0 1261.6 417.5 1260.4C418.0 1259.2 418.5 1257.9 419.1 1256.7C419.6 1255.5 420.1 1254.3 420.7 1253.1C421.2 1251.8 421.8 1250.6 422.4 1249.4C422.9 1248.2 423.5 1247.0 424.1 1245.8C424.6 1244.6 425.2 1243.4 425.8 1242.2C426.4 1241.0 427.0 1239.8 427.6 1238.6C428.2 1237.4 428.8 1236.2 429.4 1235.0C430.0 1233.8 430.7 1232.6 431.3 1231.4C431.9 1230.2 432.6 1229.0 433.2 1227.8C433.9 1226.7 434.6 1225.5 435.2 1224.3C435.9 1223.1 436.6 1222.0 437.3 1220.8C438.0 1219.6 438.7 1218.4 439.4 1217.3C440.1 1216.1 440.9 1215.0 441.6 1213.8C442.4 1212.6 443.1 1211.5 443.9 1210.4C444.6 1209.2 445.4 1208.1 446.2 1207.0C447.0 1205.9 447.8 1204.8 448.7 1203.7C449.5 1202.7 450.4 1201.6 451.2 1200.6C452.1 1199.6 453.0 1198.7 453.9 1197.7C454.9 1196.8 455.8 1195.9 456.8 1195.1C457.8 1194.3 458.8 1193.5 459.9 1192.8C460.9 1192.1 462.0 1191.4 463.1 1190.8C464.2 1190.2 465.4 1189.7 466.5 1189.2C467.7 1188.7 468.9 1188.3 470.1 1187.9C471.4 1187.5 472.6 1187.2 473.9 1186.9C475.2 1186.6 476.5 1186.4 477.8 1186.1C479.1 1185.9 480.5 1185.7 481.8 1185.5C483.1 1185.4 484.5 1185.2 485.8 1185.1C487.2 1184.9 488.6 1184.8 489.9 1184.7C491.3 1184.5 492.7 1184.4 494.1 1184.3C495.4 1184.2 496.8 1184.0 498.2 1183.9C499.5 1183.7 500.9 1183.6 502.2 1183.4C503.6 1183.2 504.9 1183.0 506.2 1182.8C507.6 1182.6 508.9 1182.4 510.2 1182.2C511.5 1181.9 512.9 1181.7 514.2 1181.5C515.5 1181.2 516.8 1181.0 518.1 1180.7C519.4 1180.5 520.7 1180.2 522.0 1179.9C523.3 1179.7 524.6 1179.4 525.9 1179.1C527.2 1178.9 528.5 1178.6 529.7 1178.3C531.0 1178.1 532.3 1177.8 533.6 1177.5C534.9 1177.3 536.2 1177.0 537.5 1176.8C538.8 1176.5 540.1 1176.3 541.4 1176.1C542.7 1175.9 544.0 1175.6 545.3 1175.4C546.6 1175.2 547.9 1175.0 549.2 1174.8C550.5 1174.7 551.9 1174.5 553.2 1174.3C554.5 1174.2 555.8 1174.0 557.1 1173.9C558.5 1173.8 559.8 1173.6 561.1 1173.5C562.4 1173.4 563.8 1173.3 565.1 1173.3C566.4 1173.2 567.8 1173.1 569.1 1173.1C570.4 1173.0 571.8 1173.0 573.1 1173.0C574.4 1173.0 575.8 1173.0 577.1 1173.0C578.4 1173.0 579.8 1173.1 581.1 1173.1C582.4 1173.2 583.8 1173.3 585.1 1173.4C586.4 1173.4 587.8 1173.6 589.1 1173.7C590.5 1173.8 591.8 1174.0 593.1 1174.1C594.5 1174.3 595.8 1174.5 597.1 1174.7C598.5 1174.9 599.8 1175.1 601.1 1175.3C602.4 1175.6 603.8 1175.8 605.1 1176.1C606.4 1176.3 607.7 1176.6 609.0 1176.9C610.4 1177.2 611.7 1177.5 613.0 1177.9C614.3 1178.2 615.6 1178.5 616.9 1178.9C618.2 1179.2 619.5 1179.6 620.8 1180.0C622.0 1180.4 623.3 1180.8 624.6 1181.2C625.9 1181.6 627.1 1182.0 628.4 1182.4C629.7 1182.8 630.9 1183.3 632.2 1183.7C633.4 1184.2 634.6 1184.7 635.9 1185.1C637.1 1185.6 638.3 1186.1 639.5 1186.6C640.8 1187.1 642.0 1187.6 643.2 1188.1C644.4 1188.7 645.6 1189.2 646.7 1189.8C647.9 1190.4 649.1 1190.9 650.3 1191.6C651.4 1192.2 652.6 1192.8 653.7 1193.4C654.9 1194.1 656.0 1194.8 657.2 1195.5C658.3 1196.2 659.4 1196.9 660.5 1197.7C661.6 1198.4 662.7 1199.2 663.8 1200.1C664.9 1200.9 666.0 1201.8 667.1 1202.6C668.2 1203.5 669.3 1204.4 670.4 1205.2C671.5 1206.1 672.6 1206.9 673.7 1207.7C674.8 1208.5 676.0 1209.2 677.1 1209.9C678.3 1210.5 679.5 1211.1 680.7 1211.6C681.9 1212.1 683.2 1212.5 684.5 1212.8C685.7 1213.1 687.0 1213.3 688.3 1213.4C689.5 1213.5 690.8 1213.6 692.1 1213.5C693.4 1213.4 694.7 1213.3 695.9 1213.0C697.2 1212.7 698.4 1212.3 699.6 1211.9C700.8 1211.4 702.0 1210.8 703.2 1210.1C704.4 1209.5 705.5 1208.8 706.7 1208.0C707.8 1207.2 708.9 1206.4 710.0 1205.5C711.0 1204.7 712.1 1203.8 713.1 1202.9C714.1 1202.0 715.1 1201.1 716.1 1200.2C717.1 1199.3 718.1 1198.3 719.0 1197.3C719.9 1196.4 720.9 1195.4 721.8 1194.4C722.7 1193.4 723.6 1192.4 724.4 1191.4C725.3 1190.4 726.2 1189.3 727.0 1188.3C727.8 1187.3 728.7 1186.2 729.5 1185.1C730.3 1184.1 731.1 1183.0 731.9 1181.9C732.7 1180.9 733.5 1179.8 734.3 1178.7C735.1 1177.6 735.8 1176.5 736.6 1175.4C737.4 1174.3 738.1 1173.2 738.9 1172.1C739.6 1171.0 740.3 1169.9 741.1 1168.8C741.8 1167.6 742.5 1166.5 743.2 1165.4C743.9 1164.3 744.6 1163.1 745.3 1162.0C746.0 1160.8 746.7 1159.7 747.4 1158.5C748.0 1157.4 748.7 1156.2 749.3 1155.1C750.0 1153.9 750.6 1152.7 751.3 1151.6C751.9 1150.4 752.5 1149.2 753.1 1148.0C753.7 1146.9 754.3 1145.7 754.9 1144.5C755.5 1143.3 756.1 1142.1 756.6 1140.9C757.2 1139.7 757.8 1138.5 758.3 1137.3C758.8 1136.0 759.4 1134.8 759.9 1133.6C760.4 1132.4 760.9 1131.1 761.4 1129.9C761.9 1128.7 762.4 1127.4 762.9 1126.2C763.4 1124.9 763.8 1123.7 764.3 1122.4C764.8 1121.2 765.2 1119.9 765.6 1118.7C766.1 1117.4 766.5 1116.2 766.9 1114.9C767.4 1113.6 767.8 1112.4 768.2 1111.1C768.6 1109.8 769.0 1108.5 769.4 1107.3C769.8 1106.0 770.2 1104.7 770.6 1103.4C771.0 1102.1 771.4 1100.9 771.8 1099.6C772.2 1098.3 772.6 1097.0 773.0 1095.7C773.3 1094.4 773.7 1093.2 774.1 1091.9C774.5 1090.6 774.9 1089.3 775.2 1088.0C775.6 1086.7 776.0 1085.4 776.4 1084.2C776.7 1082.9 777.1 1081.6 777.5 1080.3C777.9 1079.0 778.3 1077.7 778.6 1076.5C779.0 1075.2 779.4 1073.9 779.8 1072.6C780.2 1071.3 780.6 1070.1 781.0 1068.8C781.4 1067.5 781.7 1066.2 782.1 1065.0C782.5 1063.7 782.9 1062.4 783.3 1061.1C783.7 1059.9 784.1 1058.6 784.6 1057.3C785.0 1056.1 785.4 1054.8 785.8 1053.5C786.2 1052.2 786.6 1051.0 787.0 1049.7C787.4 1048.5 787.9 1047.2 788.3 1045.9C788.7 1044.7 789.2 1043.4 789.6 1042.1C790.0 1040.9 790.5 1039.6 790.9 1038.4C791.3 1037.1 791.8 1035.8 792.2 1034.6C792.7 1033.3 793.1 1032.1 793.6 1030.8C794.0 1029.6 794.5 1028.3 794.9 1027.0C795.4 1025.8 795.9 1024.5 796.3 1023.3C796.8 1022.0 797.3 1020.8 797.8 1019.5C798.3 1018.3 798.7 1017.0 799.2 1015.8C799.7 1014.6 800.2 1013.3 800.7 1012.1C801.2 1010.8 801.7 1009.6 802.2 1008.4C802.7 1007.1 803.3 1005.9 803.8 1004.7C804.3 1003.4 804.8 1002.2 805.4 1001.0C805.9 999.8 806.4 998.6 807.0 997.3C807.5 996.1 808.1 994.9 808.6 993.7C809.2 992.5 809.8 991.3 810.3 990.1C810.9 988.9 811.5 987.7 812.1 986.5C812.7 985.3 813.3 984.1 813.9 983.0C814.5 981.8 815.1 980.6 815.7 979.4C816.3 978.3 816.9 977.1 817.5 976.0C818.2 974.8 818.8 973.6 819.5 972.5C820.1 971.3 820.8 970.2 821.4 969.0C822.1 967.8 822.7 966.7 823.4 965.5C824.1 964.3 824.8 963.2 825.4 962.0C826.1 960.8 826.8 959.6 827.5 958.4C828.2 957.2 828.9 956.0 829.7 954.9C830.4 953.7 831.1 952.5 832.0 951.4C832.8 950.3 833.6 949.2 834.5 948.2C835.4 947.2 836.4 946.2 837.4 945.3C838.4 944.4 839.4 943.5 840.5 942.8C841.6 942.0 842.7 941.4 843.8 940.8C845.0 940.2 846.1 939.7 847.3 939.4C848.5 939.0 849.8 938.8 851.0 938.6C852.3 938.5 853.5 938.5 854.8 938.6C856.1 938.8 857.4 939.0 858.7 939.4C859.9 939.7 861.2 940.1 862.5 940.6C863.8 941.1 865.0 941.6 866.2 942.2C867.5 942.7 868.7 943.3 869.9 943.9C871.1 944.5 872.2 945.2 873.4 945.9C874.6 946.5 875.7 947.2 876.8 947.9C878.0 948.6 879.1 949.4 880.2 950.1C881.3 950.9 882.4 951.7 883.5 952.5C884.5 953.3 885.6 954.1 886.7 954.9C887.7 955.7 888.8 956.5 889.8 957.4C890.9 958.2 891.9 959.1 893.0 959.9C894.0 960.8 895.0 961.7 896.0 962.5C897.1 963.4 898.1 964.3 899.1 965.2C900.2 966.0 901.2 966.9 902.2 967.8C903.2 968.6 904.3 969.5 905.3 970.4C906.3 971.2 907.3 972.1 908.4 973.0C909.4 973.8 910.4 974.7 911.5 975.6C912.5 976.4 913.5 977.3 914.5 978.1C915.6 979.0 916.6 979.9 917.6 980.7C918.6 981.6 919.7 982.4 920.7 983.3C921.7 984.2 922.7 985.0 923.8 985.9C924.8 986.7 925.8 987.6 926.8 988.5C927.8 989.3 928.8 990.2 929.9 991.1C930.9 991.9 931.9 992.8 932.9 993.7C933.9 994.5 934.9 995.4 935.9 996.3C936.9 997.2 937.9 998.1 938.9 999.0C939.9 999.8 940.8 1000.7 941.8 1001.6C942.8 1002.5 943.8 1003.4 944.8 1004.3C945.7 1005.2 946.7 1006.2 947.7 1007.1C948.6 1008.0 949.6 1008.9 950.5 1009.8C951.5 1010.8 952.4 1011.7 953.4 1012.6C954.3 1013.6 955.3 1014.5 956.2 1015.5C957.1 1016.4 958.0 1017.4 959.0 1018.3C959.9 1019.3 960.8 1020.3 961.7 1021.2C962.6 1022.2 963.6 1023.2 964.5 1024.1C965.4 1025.1 966.3 1026.1 967.2 1027.1C968.1 1028.1 969.0 1029.1 969.9 1030.0C970.7 1031.0 971.6 1032.0 972.5 1033.0C973.4 1034.0 974.3 1035.0 975.2 1036.0C976.0 1037.0 976.9 1038.0 977.8 1039.0C978.7 1040.1 979.5 1041.1 980.4 1042.1C981.3 1043.1 982.1 1044.1 983.0 1045.1C983.9 1046.2 984.7 1047.2 985.6 1048.2C986.4 1049.2 987.3 1050.3 988.1 1051.3C989.0 1052.3 989.9 1053.4 990.7 1054.4C991.6 1055.4 992.4 1056.5 993.2 1057.5C994.1 1058.5 994.9 1059.6 995.8 1060.6C996.6 1061.6 997.5 1062.7 998.3 1063.7C999.2 1064.8 1000.0 1065.8 1000.8 1066.9C1001.7 1067.9 1002.5 1068.9 1003.3 1070.0C1004.2 1071.0 1005.0 1072.1 1005.9 1073.1C1006.7 1074.2 1007.5 1075.2 1008.4 1076.2C1009.2 1077.3 1010.0 1078.3 1010.9 1079.4C1011.7 1080.4 1012.5 1081.5 1013.4 1082.5C1014.2 1083.6 1015.1 1084.6 1015.9 1085.6C1016.7 1086.7 1017.6 1087.7 1018.4 1088.8C1019.2 1089.8 1020.1 1090.8 1020.9 1091.9C1021.8 1092.9 1022.6 1094.0 1023.4 1095.0C1024.3 1096.0 1025.1 1097.1 1025.9 1098.1C1026.8 1099.2 1027.6 1100.2 1028.5 1101.2C1029.3 1102.3 1030.1 1103.3 1031.0 1104.3C1031.8 1105.4 1032.6 1106.4 1033.5 1107.4C1034.3 1108.5 1035.1 1109.5 1036.0 1110.6C1036.8 1111.6 1037.6 1112.6 1038.5 1113.7C1039.3 1114.7 1040.1 1115.8 1041.0 1116.8C1041.8 1117.8 1042.6 1118.9 1043.4 1119.9C1044.3 1121.0 1045.1 1122.0 1045.9 1123.1C1046.7 1124.1 1047.5 1125.2 1048.4 1126.2C1049.2 1127.3 1050.0 1128.3 1050.8 1129.4C1051.6 1130.4 1052.4 1131.5 1053.2 1132.6C1054.0 1133.6 1054.8 1134.7 1055.6 1135.7C1056.4 1136.8 1057.2 1137.9 1058.0 1138.9C1058.8 1140.0 1059.6 1141.1 1060.4 1142.2C1061.2 1143.2 1062.0 1144.3 1062.7 1145.4C1063.5 1146.5 1064.3 1147.5 1065.1 1148.6C1065.8 1149.7 1066.6 1150.8 1067.4 1151.9C1068.1 1153.0 1068.9 1154.1 1069.7 1155.2C1070.4 1156.3 1071.2 1157.4 1071.9 1158.5C1072.7 1159.6 1073.4 1160.7 1074.2 1161.8C1074.9 1162.9 1075.7 1164.0 1076.4 1165.1C1077.2 1166.2 1077.9 1167.3 1078.6 1168.4C1079.4 1169.6 1080.1 1170.7 1080.8 1171.8C1081.6 1172.9 1082.3 1174.0 1083.0 1175.1C1083.7 1176.3 1084.4 1177.4 1085.2 1178.5C1085.9 1179.6 1086.6 1180.8 1087.3 1181.9C1088.0 1183.0 1088.7 1184.2 1089.4 1185.3C1090.1 1186.4 1090.8 1187.5 1091.5 1188.7C1092.2 1189.8 1092.9 1190.9 1093.6 1192.1C1094.3 1193.2 1095.0 1194.3 1095.8 1195.5C1096.5 1196.6 1097.2 1197.7 1097.9 1198.8C1098.6 1200.0 1099.3 1201.1 1100.0 1202.2C1100.8 1203.3 1101.5 1204.4 1102.2 1205.6C1103.0 1206.7 1103.7 1207.8 1104.5 1208.9C1105.2 1210.0 1106.0 1211.1 1106.8 1212.2C1107.6 1213.2 1108.3 1214.3 1109.2 1215.4C1110.0 1216.5 1110.8 1217.5 1111.6 1218.6C1112.4 1219.6 1113.3 1220.7 1114.1 1221.7C1115.0 1222.8 1115.9 1223.8 1116.8 1224.8C1117.7 1225.8 1118.6 1226.9 1119.5 1227.9C1120.5 1228.8 1121.4 1229.8 1122.4 1230.8C1123.4 1231.8 1124.4 1232.7 1125.4 1233.7C1126.4 1234.6 1127.4 1235.5 1128.5 1236.4C1129.5 1237.3 1130.6 1238.1 1131.7 1238.9C1132.8 1239.6 1133.9 1240.3 1135.0 1241.0C1136.1 1241.6 1137.3 1242.2 1138.4 1242.6C1139.5 1243.1 1140.7 1243.5 1141.8 1243.7C1142.9 1244.0 1144.1 1244.1 1145.3 1244.1C1146.4 1244.2 1147.6 1244.1 1148.7 1243.8C1149.9 1243.6 1151.1 1243.2 1152.2 1242.6C1153.4 1242.1 1154.5 1241.3 1155.6 1240.5C1156.8 1239.7 1157.9 1238.7 1159.0 1237.7C1160.0 1236.7 1161.1 1235.6 1162.1 1234.5C1163.1 1233.5 1164.0 1232.3 1164.9 1231.2C1165.8 1230.1 1166.6 1228.9 1167.4 1227.8C1168.2 1226.6 1169.0 1225.5 1169.7 1224.3C1170.4 1223.1 1171.1 1222.0 1171.8 1220.8C1172.4 1219.6 1173.1 1218.4 1173.7 1217.2C1174.4 1216.0 1175.0 1214.9 1175.6 1213.7C1176.2 1212.5 1176.8 1211.3 1177.4 1210.1C1178.0 1208.9 1178.6 1207.8 1179.2 1206.6C1179.8 1205.4 1180.4 1204.3 1181.0 1203.1C1181.6 1201.9 1182.3 1200.8 1182.9 1199.6C1183.5 1198.5 1184.1 1197.3 1184.7 1196.1C1185.3 1195.0 1185.9 1193.8 1186.5 1192.6C1187.2 1191.5 1187.8 1190.3 1188.4 1189.2C1189.0 1188.0 1189.6 1186.8 1190.2 1185.6C1190.8 1184.5 1191.4 1183.3 1192.1 1182.1C1192.7 1180.9 1193.3 1179.8 1193.9 1178.6C1194.5 1177.4 1195.0 1176.2 1195.6 1175.0C1196.2 1173.8 1196.8 1172.6 1197.4 1171.4C1197.9 1170.2 1198.5 1169.0 1199.1 1167.8C1199.6 1166.6 1200.2 1165.3 1200.7 1164.1C1201.3 1162.9 1201.8 1161.7 1202.3 1160.4C1202.8 1159.2 1203.3 1157.9 1203.9 1156.7C1204.4 1155.5 1204.8 1154.2 1205.3 1152.9C1205.8 1151.7 1206.3 1150.4 1206.8 1149.2C1207.2 1147.9 1207.7 1146.6 1208.2 1145.4C1208.6 1144.1 1209.1 1142.8 1209.5 1141.6C1210.0 1140.3 1210.5 1139.0 1210.9 1137.8C1211.4 1136.5 1211.9 1135.2 1212.3 1134.0C1212.8 1132.7 1213.3 1131.5 1213.8 1130.2C1214.3 1128.9 1214.8 1127.7 1215.3 1126.5C1215.8 1125.2 1216.3 1124.0 1216.8 1122.8C1217.4 1121.5 1217.9 1120.3 1218.5 1119.1C1219.0 1117.9 1219.6 1116.7 1220.2 1115.5C1220.8 1114.3 1221.4 1113.1 1222.0 1112.0C1222.7 1110.8 1223.3 1109.6 1224.0 1108.5C1224.7 1107.3 1225.4 1106.2 1226.1 1105.1C1226.8 1104.0 1227.6 1102.9 1228.3 1101.8C1229.1 1100.7 1229.9 1099.7 1230.8 1098.6C1231.6 1097.6 1232.5 1096.5 1233.4 1095.5C1234.3 1094.5 1235.2 1093.5 1236.2 1092.5C1237.1 1091.6 1238.2 1090.6 1239.2 1089.7C1240.2 1088.8 1241.3 1087.9 1242.4 1087.2C1243.5 1086.4 1244.6 1085.6 1245.8 1085.0C1246.9 1084.3 1248.1 1083.8 1249.3 1083.3C1250.5 1082.9 1251.7 1082.5 1253.0 1082.3C1254.2 1082.1 1255.4 1082.0 1256.7 1082.0C1258.0 1082.1 1259.2 1082.3 1260.5 1082.6C1261.8 1082.9 1263.0 1083.3 1264.3 1083.8C1265.5 1084.3 1266.7 1084.8 1267.9 1085.5C1269.1 1086.1 1270.2 1086.8 1271.3 1087.6C1272.4 1088.4 1273.5 1089.2 1274.6 1090.1C1275.6 1090.9 1276.7 1091.8 1277.7 1092.8C1278.7 1093.7 1279.7 1094.7 1280.6 1095.7C1281.6 1096.7 1282.5 1097.8 1283.5 1098.8C1284.4 1099.9 1285.3 1100.9 1286.2 1102.0C1287.1 1103.1 1287.9 1104.1 1288.8 1105.2C1289.7 1106.2 1290.5 1107.3 1291.4 1108.3C1292.2 1109.4 1293.0 1110.4 1293.9 1111.4C1294.7 1112.5 1295.5 1113.5 1296.3 1114.5C1297.1 1115.5 1297.9 1116.6 1298.7 1117.6C1299.5 1118.6 1300.3 1119.6 1301.1 1120.7C1301.9 1121.7 1302.7 1122.7 1303.5 1123.7C1304.3 1124.8 1305.1 1125.8 1305.9 1126.9C1306.6 1127.9 1307.4 1129.0 1308.2 1130.0C1309.0 1131.1 1309.8 1132.1 1310.6 1133.2C1311.4 1134.3 1312.1 1135.3 1312.9 1136.4C1313.7 1137.5 1314.5 1138.6 1315.3 1139.7C1316.0 1140.7 1316.8 1141.8 1317.6 1142.9C1318.3 1144.0 1319.1 1145.1 1319.9 1146.2C1320.6 1147.3 1321.4 1148.4 1322.2 1149.6C1322.9 1150.7 1323.7 1151.8 1324.4 1152.9C1325.1 1154.0 1325.9 1155.2 1326.6 1156.3C1327.4 1157.4 1328.1 1158.5 1328.8 1159.7C1329.5 1160.8 1330.3 1162.0 1331.0 1163.1C1331.7 1164.3 1332.4 1165.4 1333.1 1166.6C1333.8 1167.7 1334.5 1168.9 1335.2 1170.0C1335.9 1171.2 1336.6 1172.4 1337.2 1173.5C1337.9 1174.7 1338.6 1175.9 1339.2 1177.1C1339.9 1178.2 1340.5 1179.4 1341.2 1180.6C1341.8 1181.8 1342.5 1183.0 1343.1 1184.2C1343.7 1185.4 1344.3 1186.5 1344.9 1187.7C1345.5 1188.9 1346.1 1190.1 1346.7 1191.3C1347.3 1192.5 1347.9 1193.8 1348.5 1195.0C1349.0 1196.2 1349.6 1197.4 1350.2 1198.6C1350.7 1199.8 1351.3 1201.0 1351.8 1202.3C1352.3 1203.5 1352.9 1204.7 1353.4 1205.9C1353.9 1207.1 1354.4 1208.4 1354.9 1209.6C1355.4 1210.8 1355.9 1212.1 1356.4 1213.3C1356.9 1214.5 1357.4 1215.8 1357.8 1217.0C1358.3 1218.3 1358.8 1219.5 1359.2 1220.8C1359.7 1222.0 1360.1 1223.2 1360.6 1224.5C1361.0 1225.7 1361.5 1227.0 1361.9 1228.3C1362.3 1229.5 1362.8 1230.8 1363.2 1232.0C1363.6 1233.3 1364.0 1234.5 1364.4 1235.8C1364.8 1237.1 1365.2 1238.3 1365.6 1239.6C1366.0 1240.9 1366.4 1242.1 1366.8 1243.4C1367.2 1244.7 1367.6 1246.0 1367.9 1247.2C1368.3 1248.5 1368.7 1249.8 1369.0 1251.1C1369.4 1252.3 1369.8 1253.6 1370.1 1254.9C1370.5 1256.2 1370.8 1257.4 1371.2 1258.7C1371.5 1260.0 1371.9 1261.3 1372.2 1262.6C1372.6 1263.9 1372.9 1265.2 1373.2 1266.4C1373.6 1267.7 1373.9 1269.0 1374.2 1270.3C1374.6 1271.6 1374.9 1272.9 1375.2 1274.2C1375.5 1275.5 1375.8 1276.8 1376.2 1278.1C1376.5 1279.4 1376.8 1280.7 1377.1 1282.0C1377.4 1283.3 1377.7 1284.6 1378.0 1285.9C1378.3 1287.2 1378.6 1288.5 1378.9 1289.8C1379.2 1291.1 1379.5 1292.4 1379.8 1293.7C1380.1 1295.0 1380.4 1296.3 1380.7 1297.6C1381.0 1298.9 1381.3 1300.2 1381.6 1301.5C1381.9 1302.8 1382.2 1304.1 1382.5 1305.4C1382.8 1306.7 1383.1 1308.0 1383.4 1309.3C1383.7 1310.6 1384.0 1311.9 1384.3 1313.2C1384.6 1314.5 1384.9 1315.8 1385.2 1317.1C1385.5 1318.4 1385.8 1319.7 1386.1 1321.0C1386.4 1322.3 1386.6 1323.6 1386.9 1324.9C1387.2 1326.3 1387.5 1327.6 1387.8 1328.9C1388.1 1330.2 1388.4 1331.5 1388.7 1332.8C1389.0 1334.1 1389.4 1335.4 1389.7 1336.7C1390.0 1338.0 1390.3 1339.3 1390.6 1340.6C1390.9 1341.9 1391.2 1343.2 1391.5 1344.5C1391.8 1345.8 1392.1 1347.1 1392.5 1348.4C1392.8 1349.7 1393.1 1351.0 1393.4 1352.3C1393.7 1353.6 1394.1 1354.9 1394.4 1356.2C1394.7 1357.5 1395.0 1358.8 1395.4 1360.1C1395.7 1361.4 1396.0 1362.7 1396.3 1364.0C1396.7 1365.3 1397.0 1366.6 1397.3 1367.9C1397.7 1369.2 1398.0 1370.5 1398.3 1371.8C1398.7 1373.1 1399.0 1374.4 1399.3 1375.7C1399.7 1377.0 1400.0 1378.3 1400.4 1379.6C1400.7 1380.9 1401.0 1382.1 1401.4 1383.4C1401.7 1384.7 1402.1 1386.0 1402.4 1387.3C1402.8 1388.6 1403.1 1389.9 1403.5 1391.2C1403.8 1392.5 1404.2 1393.8 1404.5 1395.1C1404.9 1396.4 1405.2 1397.7 1405.6 1399.0C1405.9 1400.2 1406.3 1401.5 1406.6 1402.8C1407.0 1404.1 1407.3 1405.4 1407.7 1406.7C1408.1 1408.0 1408.4 1409.3 1408.8 1410.6C1409.1 1411.8 1409.5 1413.1 1409.9 1414.4C1410.2 1415.7 1410.6 1417.0 1411.0 1418.3C1411.3 1419.6 1411.7 1420.9 1412.0 1422.1C1412.4 1423.4 1412.8 1424.7 1413.1 1426.0C1413.5 1427.3 1413.9 1428.6 1414.2 1429.9C1414.6 1431.1 1415.0 1432.4 1415.4 1433.7C1415.7 1435.0 1416.1 1436.3 1416.5 1437.6C1416.8 1438.8 1417.2 1440.1 1417.6 1441.4C1418.0 1442.7 1418.3 1444.0 1418.7 1445.2C1419.1 1446.5 1419.5 1447.8 1419.8 1449.1C1420.2 1450.4 1420.6 1451.7 1421.0 1452.9C1421.3 1454.2 1421.7 1455.5 1422.1 1456.8C1422.5 1458.0 1422.9 1459.3 1423.2 1460.6C1423.6 1461.9 1424.0 1463.2 1424.4 1464.4C1424.8 1465.7 1425.1 1467.0 1425.5 1468.3C1425.9 1469.5 1426.3 1470.8 1426.7 1472.1C1427.1 1473.4 1427.4 1474.6 1427.8 1475.9C1428.2 1477.2 1428.6 1478.5 1429.0 1479.7C1429.3 1481.0 1429.7 1482.3 1430.1 1483.6C1430.5 1484.8 1430.9 1486.1 1431.3 1487.4C1431.7 1488.6 1432.0 1489.9 1432.4 1491.2C1432.8 1492.5 1433.2 1493.7 1433.6 1495.0C1434.0 1496.3 1434.3 1497.5 1434.7 1498.8C1435.1 1500.1 1435.5 1501.3 1435.9 1502.6C1436.3 1503.9 1436.7 1505.1 1437.0 1506.4C1437.4 1507.7 1437.8 1508.9 1438.2 1510.2C1438.6 1511.5 1439.0 1512.7 1439.4 1514.0C1439.7 1515.3 1440.1 1516.5 1440.5 1517.8C1440.9 1519.1 1441.3 1520.3 1441.7 1521.6C1442.1 1522.8 1442.5 1524.1 1442.9 1525.4C1443.3 1526.6 1443.7 1527.9 1444.1 1529.1C1444.5 1530.4 1444.9 1531.7 1445.4 1532.9C1445.8 1534.2 1446.2 1535.4 1446.6 1536.7C1447.1 1537.9 1447.5 1539.2 1448.0 1540.4C1448.4 1541.7 1448.8 1542.9 1449.3 1544.2C1449.8 1545.4 1450.2 1546.7 1450.7 1547.9C1451.2 1549.2 1451.7 1550.4 1452.1 1551.7C1452.6 1552.9 1453.1 1554.1 1453.6 1555.4C1454.2 1556.6 1454.7 1557.8 1455.2 1559.1C1455.7 1560.3 1456.3 1561.5 1456.8 1562.8C1457.4 1564.0 1457.9 1565.2 1458.5 1566.5C1459.1 1567.7 1459.7 1568.9 1460.3 1570.1C1460.9 1571.4 1461.5 1572.6 1462.1 1573.8C1462.7 1575.0 1463.4 1576.2 1464.0 1577.4C1464.7 1578.6 1465.4 1579.9 1466.0 1581.1C1466.7 1582.3 1467.4 1583.5 1468.1 1584.7C1468.9 1585.9 1469.6 1587.1 1470.3 1588.2C1471.1 1589.4 1471.8 1590.6 1472.6 1591.8C1473.4 1592.9 1474.2 1594.1 1475.0 1595.2C1475.8 1596.3 1476.6 1597.4 1477.5 1598.5C1478.3 1599.6 1479.2 1600.7 1480.0 1601.7C1480.9 1602.8 1481.8 1603.8 1482.7 1604.8C1483.6 1605.8 1484.6 1606.7 1485.5 1607.7C1486.5 1608.6 1487.4 1609.5 1488.4 1610.4C1489.4 1611.3 1490.4 1612.1 1491.4 1612.9C1492.4 1613.7 1493.5 1614.4 1494.5 1615.2C1495.6 1615.9 1496.7 1616.6 1497.8 1617.2C1498.8 1617.8 1500.0 1618.4 1501.1 1619.0C1502.2 1619.5 1503.4 1620.0 1504.6 1620.4C1505.7 1620.9 1506.9 1621.3 1508.1 1621.6C1509.4 1621.9 1510.6 1622.2 1511.8 1622.5C1513.1 1622.7 1514.4 1622.9 1515.7 1623.0C1516.9 1623.2 1518.3 1623.3 1519.6 1623.4C1520.9 1623.5 1522.2 1623.5 1523.6 1623.6C1524.9 1623.6 1526.3 1623.6 1527.6 1623.6C1529.0 1623.6 1530.4 1623.6 1531.8 1623.5C1533.1 1623.5 1534.5 1623.4 1535.9 1623.4C1537.3 1623.4 1538.7 1623.3 1540.2 1623.3C1541.6 1623.3 1543.0 1623.2 1544.4 1623.2C1545.8 1623.2 1547.2 1623.1 1548.6 1623.1C1550.0 1623.0 1551.4 1622.9 1552.8 1622.8C1554.2 1622.7 1555.5 1622.6 1556.9 1622.4C1558.2 1622.2 1559.5 1622.0 1560.8 1621.7C1562.1 1621.4 1563.4 1621.1 1564.6 1620.7C1565.9 1620.3 1567.1 1619.9 1568.3 1619.4C1569.5 1618.9 1570.6 1618.4 1571.8 1617.9C1572.9 1617.3 1574.1 1616.7 1575.2 1616.1C1576.3 1615.4 1577.4 1614.7 1578.4 1614.0C1579.5 1613.3 1580.5 1612.6 1581.6 1611.8C1582.6 1611.0 1583.6 1610.2 1584.6 1609.3C1585.6 1608.5 1586.6 1607.6 1587.6 1606.8C1588.5 1605.9 1589.5 1604.9 1590.4 1604.0C1591.4 1603.1 1592.3 1602.1 1593.2 1601.2C1594.1 1600.2 1595.0 1599.2 1595.9 1598.2C1596.8 1597.2 1597.7 1596.2 1598.6 1595.2C1599.5 1594.1 1600.4 1593.1 1601.2 1592.1C1602.1 1591.0 1603.0 1590.0 1603.8 1588.9C1604.7 1587.9 1605.6 1586.8 1606.4 1585.8C1607.3 1584.7 1608.1 1583.7 1609.0 1582.6C1609.9 1581.6 1610.7 1580.5 1611.6 1579.5C1612.4 1578.4 1613.3 1577.4 1614.1 1576.4C1615.0 1575.3 1615.9 1574.3 1616.7 1573.3C1617.6 1572.2 1618.5 1571.2 1619.4 1570.2C1620.3 1569.2 1621.2 1568.2 1622.1 1567.2C1623.0 1566.2 1623.9 1565.3 1624.8 1564.3C1625.7 1563.3 1626.6 1562.4 1627.6 1561.5C1628.5 1560.5 1629.5 1559.6 1630.4 1558.7C1631.4 1557.8 1632.4 1556.9 1633.4 1556.1C1634.4 1555.2 1635.4 1554.4 1636.4 1553.6C1637.5 1552.8 1638.5 1552.0 1639.6 1551.2C1640.6 1550.5 1641.7 1549.7 1642.8 1549.0C1644.0 1548.3 1645.1 1547.6 1646.2 1547.0C1647.4 1546.3 1648.6 1545.7 1649.8 1545.1C1651.0 1544.5 1652.2 1544.0 1653.4 1543.4C1654.7 1542.9 1655.9 1542.4 1657.2 1541.8C1658.4 1541.3 1659.7 1540.8 1661.0 1540.4C1662.3 1539.9 1663.5 1539.4 1664.8 1538.9C1666.1 1538.5 1667.4 1538.0 1668.7 1537.5C1670.0 1537.1 1671.3 1536.6 1672.6 1536.1C1673.9 1535.7 1675.2 1535.2 1676.4 1534.7C1677.7 1534.2 1679.0 1533.7 1680.2 1533.2C1681.5 1532.7 1682.7 1532.1 1683.9 1531.6C1685.2 1531.0 1686.4 1530.5 1687.6 1529.9C1688.7 1529.3 1689.9 1528.6 1691.0 1528.0C1692.2 1527.3 1693.3 1526.6 1694.4 1525.9C1695.5 1525.2 1696.6 1524.5 1697.6 1523.7C1698.7 1523.0 1699.7 1522.2 1700.8 1521.4C1701.8 1520.6 1702.8 1519.8 1703.9 1519.0C1704.9 1518.2 1705.9 1517.3 1706.9 1516.5C1707.9 1515.6 1708.9 1514.8 1709.9 1513.9C1710.9 1513.1 1711.9 1512.2 1712.9 1511.3C1713.9 1510.4 1714.8 1509.6 1715.8 1508.7C1716.8 1507.8 1717.8 1506.9 1718.9 1506.0C1719.9 1505.2 1720.9 1504.3 1721.9 1503.4C1723.0 1502.6 1724.0 1501.7 1725.1 1500.9C1726.1 1500.0 1727.2 1499.2 1728.3 1498.4C1729.4 1497.6 1730.5 1496.7 1731.6 1496.0C1732.7 1495.2 1733.9 1494.4 1735.1 1493.7C1736.2 1492.9 1737.4 1492.2 1738.6 1491.5C1739.8 1490.8 1741.1 1490.2 1742.3 1489.6C1743.5 1489.0 1744.8 1488.4 1746.0 1487.9C1747.3 1487.4 1748.5 1487.0 1749.8 1486.6C1751.1 1486.2 1752.3 1485.9 1753.6 1485.7C1754.9 1485.5 1756.1 1485.3 1757.4 1485.3C1758.6 1485.2 1759.9 1485.2 1761.1 1485.4C1762.4 1485.5 1763.6 1485.7 1764.8 1485.9C1766.0 1486.2 1767.3 1486.6 1768.5 1487.0C1769.7 1487.4 1770.9 1487.9 1772.1 1488.4C1773.2 1489.0 1774.4 1489.6 1775.6 1490.2C1776.8 1490.9 1777.9 1491.6 1779.1 1492.3C1780.2 1493.0 1781.3 1493.8 1782.5 1494.6C1783.6 1495.5 1784.7 1496.3 1785.8 1497.2C1786.9 1498.1 1787.9 1499.0 1789.0 1499.9C1790.1 1500.8 1791.1 1501.7 1792.2 1502.7C1793.2 1503.6 1794.2 1504.6 1795.2 1505.5C1796.2 1506.5 1797.2 1507.4 1798.2 1508.4C1799.2 1509.3 1800.1 1510.3 1801.1 1511.2C1802.0 1512.2 1802.9 1513.2 1803.9 1514.2C1804.8 1515.1 1805.7 1516.1 1806.6 1517.1C1807.5 1518.1 1808.3 1519.1 1809.2 1520.1C1810.1 1521.0 1810.9 1522.0 1811.8 1523.0C1812.6 1524.1 1813.4 1525.1 1814.3 1526.1C1815.1 1527.1 1815.9 1528.1 1816.7 1529.2C1817.5 1530.2 1818.3 1531.2 1819.1 1532.3C1819.9 1533.3 1820.6 1534.4 1821.4 1535.4C1822.2 1536.5 1822.9 1537.5 1823.7 1538.6C1824.4 1539.7 1825.2 1540.8 1825.9 1541.9C1826.7 1543.0 1827.4 1544.1 1828.1 1545.2C1828.8 1546.3 1829.6 1547.4 1830.3 1548.5C1831.0 1549.7 1831.7 1550.8 1832.4 1552.0C1833.1 1553.1 1833.8 1554.2 1834.6 1555.4C1835.3 1556.6 1836.0 1557.7 1836.7 1558.9C1837.4 1560.0 1838.1 1561.2 1838.8 1562.3C1839.5 1563.5 1840.3 1564.6 1841.0 1565.8C1841.7 1566.9 1842.4 1568.1 1843.2 1569.2C1843.9 1570.3 1844.7 1571.5 1845.5 1572.6C1846.2 1573.7 1847.0 1574.8 1847.8 1575.9C1848.6 1577.0 1849.4 1578.1 1850.2 1579.2C1851.0 1580.2 1851.8 1581.3 1852.7 1582.3C1853.5 1583.4 1854.4 1584.4 1855.3 1585.4C1856.2 1586.4 1857.1 1587.4 1858.0 1588.3C1858.9 1589.3 1859.9 1590.2 1860.8 1591.1C1861.8 1592.1 1862.8 1593.0 1863.8 1593.8C1864.8 1594.7 1865.9 1595.5 1867.0 1596.3C1868.0 1597.1 1869.1 1597.9 1870.3 1598.6C1871.4 1599.3 1872.5 1599.9 1873.7 1600.5C1874.9 1601.1 1876.1 1601.6 1877.3 1602.1C1878.5 1602.5 1879.7 1602.9 1881.0 1603.2C1882.2 1603.5 1883.5 1603.7 1884.8 1603.7C1886.1 1603.8 1887.4 1603.8 1888.7 1603.7C1890.0 1603.5 1891.4 1603.3 1892.7 1603.0C1894.0 1602.7 1895.3 1602.2 1896.6 1601.8C1897.9 1601.4 1899.2 1600.8 1900.5 1600.3C1901.7 1599.8 1902.9 1599.2 1904.2 1598.6C1905.4 1598.0 1906.5 1597.4 1907.7 1596.7C1908.9 1596.0 1910.0 1595.3 1911.1 1594.6C1912.2 1593.9 1913.3 1593.1 1914.4 1592.3C1915.5 1591.6 1916.5 1590.8 1917.6 1589.9C1918.6 1589.1 1919.6 1588.3 1920.6 1587.4C1921.6 1586.5 1922.6 1585.6 1923.6 1584.7C1924.6 1583.8 1925.6 1582.9 1926.5 1582.0C1927.5 1581.0 1928.4 1580.1 1929.4 1579.1C1930.3 1578.2 1931.2 1577.2 1932.2 1576.2C1933.1 1575.2 1934.0 1574.2 1934.9 1573.3C1935.8 1572.3 1936.7 1571.3 1937.7 1570.3C1938.6 1569.3 1939.5 1568.3 1940.4 1567.3C1941.3 1566.3 1942.2 1565.3 1943.1 1564.3C1944.0 1563.3 1944.9 1562.3 1945.8 1561.3C1946.7 1560.3 1947.6 1559.3 1948.5 1558.3C1949.4 1557.3 1950.3 1556.3 1951.1 1555.3C1952.0 1554.3 1952.9 1553.3 1953.8 1552.3C1954.7 1551.3 1955.6 1550.3 1956.5 1549.3C1957.4 1548.3 1958.3 1547.3 1959.1 1546.3C1960.0 1545.3 1960.9 1544.3 1961.8 1543.3C1962.6 1542.3 1963.5 1541.3 1964.4 1540.3C1965.2 1539.3 1966.1 1538.2 1967.0 1537.2C1967.8 1536.2 1968.7 1535.2 1969.5 1534.2C1970.4 1533.1 1971.2 1532.1 1972.0 1531.1C1972.9 1530.1 1973.7 1529.0 1974.5 1528.0C1975.4 1526.9 1976.2 1525.9 1977.0 1524.9C1977.8 1523.8 1978.6 1522.8 1979.4 1521.7C1980.2 1520.6 1981.0 1519.6 1981.8 1518.5C1982.6 1517.4 1983.4 1516.4 1984.2 1515.3C1984.9 1514.2 1985.7 1513.1 1986.5 1512.0C1987.2 1510.9 1988.0 1509.8 1988.7 1508.7C1989.5 1507.6 1990.2 1506.5 1990.9 1505.4C1991.7 1504.2 1992.4 1503.1 1993.1 1502.0C1993.8 1500.9 1994.5 1499.7 1995.2 1498.6C1996.0 1497.4 1996.7 1496.3 1997.4 1495.2C1998.1 1494.0 1998.8 1492.9 1999.5 1491.7C2000.2 1490.6 2000.9 1489.4 2001.6 1488.3C2002.3 1487.1 2003.0 1486.0 2003.7 1484.8C2004.4 1483.7 2005.1 1482.5 2005.8 1481.4C2006.5 1480.2 2007.2 1479.1 2007.9 1478.0C2008.6 1476.8 2009.3 1475.7 2010.0 1474.6C2010.7 1473.4 2011.5 1472.3 2012.2 1471.2C2012.9 1470.0 2013.7 1468.9 2014.4 1467.8C2015.2 1466.7 2015.9 1465.6 2016.7 1464.5C2017.4 1463.4 2018.2 1462.3 2019.0 1461.3C2019.8 1460.2 2020.6 1459.1 2021.4 1458.0C2022.2 1457.0 2023.0 1455.9 2023.8 1454.9C2024.6 1453.9 2025.5 1452.8 2026.3 1451.8C2027.2 1450.8 2028.0 1449.8 2028.9 1448.8C2029.8 1447.8 2030.7 1446.8 2031.6 1445.8C2032.5 1444.8 2033.4 1443.9 2034.3 1442.9C2035.2 1441.9 2036.1 1441.0 2037.1 1440.0C2038.0 1439.1 2038.9 1438.2 2039.9 1437.2C2040.8 1436.3 2041.8 1435.4 2042.7 1434.4C2043.7 1433.5 2044.7 1432.6 2045.7 1431.7C2046.6 1430.8 2047.6 1429.9 2048.6 1429.0C2049.6 1428.1 2050.6 1427.2 2051.6 1426.3C2052.5 1425.4 2053.5 1424.5 2054.5 1423.6C2055.5 1422.7 2056.5 1421.8 2057.5 1420.9C2058.5 1420.1 2059.5 1419.2 2060.5 1418.3C2061.6 1417.4 2062.6 1416.5 2063.6 1415.7C2064.6 1414.8 2065.6 1413.9 2066.6 1413.0C2067.6 1412.1 2068.6 1411.3 2069.6 1410.4C2070.6 1409.5 2071.6 1408.6 2072.6 1407.7C2073.6 1406.9 2074.6 1406.0 2075.6 1405.1C2076.6 1404.2 2077.6 1403.3 2078.6 1402.4C2079.6 1401.6 2080.6 1400.7 2081.6 1399.8C2082.6 1398.9 2083.6 1398.0 2084.6 1397.1C2085.6 1396.2 2086.6 1395.3 2087.6 1394.4C2088.6 1393.5 2089.5 1392.6 2090.5 1391.7C2091.5 1390.8 2092.5 1389.9 2093.5 1389.0C2094.5 1388.1 2095.5 1387.2 2096.5 1386.4C2097.5 1385.5 2098.5 1384.6 2099.6 1383.8C2100.6 1383.0 2101.7 1382.2 2102.8 1381.4C2103.9 1380.6 2105.1 1379.9 2106.2 1379.2C2107.4 1378.5 2108.6 1377.9 2109.8 1377.3C2111.0 1376.7 2112.3 1376.1 2113.6 1375.7C2114.8 1375.2 2116.1 1374.8 2117.4 1374.5C2118.7 1374.2 2120.0 1374.0 2121.4 1373.9C2122.7 1373.7 2124.0 1373.7 2125.3 1373.8C2126.7 1373.9 2128.0 1374.0 2129.3 1374.3C2130.6 1374.6 2131.9 1374.9 2133.2 1375.4C2134.4 1375.8 2135.7 1376.3 2136.8 1376.9C2138.0 1377.5 2139.1 1378.2 2140.2 1378.9C2141.3 1379.6 2142.3 1380.4 2143.3 1381.2C2144.3 1382.1 2145.2 1383.0 2146.2 1383.9C2147.1 1384.8 2147.9 1385.8 2148.8 1386.8C2149.6 1387.8 2150.5 1388.9 2151.2 1390.0C2152.0 1391.1 2152.8 1392.2 2153.6 1393.3C2154.3 1394.5 2155.0 1395.6 2155.7 1396.8C2156.4 1398.0 2157.1 1399.2 2157.8 1400.4C2158.5 1401.6 2159.2 1402.8 2159.8 1404.0C2160.5 1405.2 2161.2 1406.4 2161.8 1407.6C2162.5 1408.8 2163.1 1410.0 2163.8 1411.2C2164.4 1412.4 2165.1 1413.6 2165.7 1414.8C2166.4 1416.0 2167.0 1417.1 2167.7 1418.3C2168.3 1419.5 2169.0 1420.7 2169.6 1421.8C2170.3 1423.0 2170.9 1424.2 2171.5 1425.3C2172.2 1426.5 2172.8 1427.7 2173.4 1428.8C2174.1 1430.0 2174.7 1431.1 2175.3 1432.3C2175.9 1433.5 2176.5 1434.6 2177.2 1435.8C2177.8 1436.9 2178.4 1438.1 2179.0 1439.2C2179.6 1440.4 2180.2 1441.6 2180.8 1442.7C2181.4 1443.9 2182.0 1445.0 2182.6 1446.2C2183.2 1447.4 2183.8 1448.5 2184.4 1449.7C2185.0 1450.9 2185.6 1452.0 2186.2 1453.2C2186.7 1454.4 2187.3 1455.5 2187.9 1456.7C2188.5 1457.9 2189.0 1459.1 2189.6 1460.3C2190.2 1461.5 2190.7 1462.7 2191.3 1463.8C2191.8 1465.0 2192.4 1466.2 2192.9 1467.5C2193.5 1468.7 2194.0 1469.9 2194.6 1471.1C2195.1 1472.3 2195.6 1473.5 2196.2 1474.8C2196.7 1476.0 2197.2 1477.2 2197.8 1478.5C2198.3 1479.7 2198.8 1481.0 2199.3 1482.2C2199.9 1483.5 2200.4 1484.7 2200.9 1486.0C2201.4 1487.2 2201.9 1488.5 2202.5 1489.8C2203.0 1491.0 2203.5 1492.3 2204.0 1493.5C2204.5 1494.8 2205.1 1496.1 2205.6 1497.3C2206.1 1498.6 2206.6 1499.8 2207.2 1501.1C2207.7 1502.4 2208.2 1503.6 2208.8 1504.9C2209.3 1506.1 2209.9 1507.4 2210.4 1508.6C2210.9 1509.9 2211.5 1511.1 2212.1 1512.4C2212.6 1513.6 2213.2 1514.9 2213.7 1516.1C2214.3 1517.3 2214.9 1518.6 2215.5 1519.8C2216.1 1521.0 2216.7 1522.2 2217.3 1523.4C2217.9 1524.6 2218.5 1525.8 2219.1 1527.0C2219.7 1528.2 2220.3 1529.4 2221.0 1530.6C2221.6 1531.8 2222.3 1533.0 2222.9 1534.1C2223.6 1535.3 2224.2 1536.4 2224.9 1537.6C2225.6 1538.7 2226.3 1539.9 2227.0 1541.0C2227.7 1542.1 2228.4 1543.2 2229.2 1544.3C2229.9 1545.4 2230.7 1546.5 2231.4 1547.6C2232.2 1548.6 2233.0 1549.7 2233.8 1550.7C2234.6 1551.8 2235.4 1552.8 2236.2 1553.8C2237.0 1554.9 2237.9 1555.9 2238.7 1556.8C2239.6 1557.8 2240.5 1558.8 2241.4 1559.7C2242.3 1560.7 2243.2 1561.6 2244.1 1562.6C2245.1 1563.5 2246.0 1564.4 2247.0 1565.3C2248.0 1566.1 2249.0 1567.0 2250.0 1567.8C2251.0 1568.7 2252.1 1569.5 2253.1 1570.3C2254.2 1571.1 2255.3 1571.9 2256.4 1572.7C2257.5 1573.4 2258.6 1574.1 2259.7 1574.8C2260.9 1575.5 2262.0 1576.1 2263.2 1576.6C2264.4 1577.2 2265.6 1577.7 2266.8 1578.1C2268.0 1578.4 2269.2 1578.8 2270.4 1579.0C2271.7 1579.2 2272.9 1579.3 2274.1 1579.3C2275.4 1579.3 2276.6 1579.2 2277.9 1578.9C2279.1 1578.6 2280.4 1578.2 2281.6 1577.7C2282.9 1577.1 2284.1 1576.4 2285.4 1575.6C2286.6 1574.8 2287.9 1573.9 2289.1 1572.9C2290.3 1572.0 2291.5 1570.9 2292.7 1569.9C2293.9 1568.8 2295.1 1567.8 2296.2 1566.8C2297.3 1565.8 2298.4 1564.8 2299.4 1563.9C2300.4 1563.0 2301.4 1562.2 2302.4 1561.5C2303.3 1560.8 2304.5 1560.2 2305.0 1559.9" stroke="#000080"/>
</g>
<g fill="#000">
<rect x="209" y="50" width="7" height="1682"/>
<rect x="209" y="1725" width="2086" height="7"/>
<rect x="277.9" y="1730" width="7" height="31.7"/>
<rect x="600.0" y="1730" width="7" height="31.7"/>
<rect x="922.0" y="1730" width="7" height="31.7"/>
<rect x="1244.1" y="1730" width="7" height="31.7"/>
<rect x="1566.2" y="1730" width="7" height="31.7"/>
<rect x="1888.2" y="1730" width="7" height="31.7"/>
<rect x="2210.3" y="1730" width="7" height="31.7"/>
<rect x="438.9" y="1730" width="7" height="14.8"/>
<rect x="761.0" y="1730" width="7" height="14.8"/>
<rect x="1083.1" y="1730" width="7" height="14.8"/>
<rect x="1405.1" y="1730" width="7" height="14.8"/>
<rect x="1727.2" y="1730" width="7" height="14.8"/>
<rect x="2049.3" y="1730" width="7" height="14.8"/>
<rect x="196.0" y="366.8" width="16.0" height="7"/>
<rect x="179.0" y="771.1" width="33.0" height="7"/>
<rect x="196.0" y="1175.1" width="16.0" height="7"/>
<rect x="179.0" y="1579.9" width="33.0" height="7"/>
</g>
<g font-size="71" text-anchor="middle">
<text transform="translate(281.4,1839.6) scale(1,1.03)">2250</text>
<text transform="translate(603.5,1839.6) scale(1,1.03)">2200</text>
<text transform="translate(925.5,1839.6) scale(1,1.03)">2150</text>
<text transform="translate(1247.6,1839.6) scale(1,1.03)">2100</text>
<text transform="translate(1569.7,1839.6) scale(1,1.03)">2050</text>
<text transform="translate(1891.8,1839.6) scale(1,1.03)">2000</text>
<text transform="translate(2213.8,1839.6) scale(1,1.03)">1950</text>
</g>
<text x="860" y="1984" font-size="88">Wave number, cm<tspan font-size="50" dx="-1" dy="-35">−1</tspan></text>
<g transform="translate(85.2,1046) rotate(-90)" font-size="88"><text transform="scale(1,1.045)">K-M</text><text x="185.7">un.</text></g>
<g font-size="88">
<text transform="translate(312.5,572.0) scale(1,1.03)">2217</text>
<text transform="translate(503.4,86.0) scale(1,1.03)">2189</text>
<text transform="translate(745.4,82.6) scale(1,1.03)">2170</text>
<text transform="translate(888.0,305.0) scale(1,1.03)">2160</text>
<text transform="translate(1153.5,363.0) scale(1,1.03)">2099</text>
<text transform="translate(1677.4,1102.8) scale(1,1.03)">2020</text>
<text transform="translate(2032.0,1070.3) scale(1,1.03)">1965</text>
</g>
<line x1="826.8" y1="114.4" x2="826.8" y2="138.8" stroke="#000" stroke-width="3.0"/><polygon points="815.2,136.8 838.4,136.8 826.8,183.8" fill="#000"/>
<line x1="930.9" y1="360.0" x2="901.7" y2="838.1" stroke="#000" stroke-width="3.0"/><polygon points="890.3,835.4 913.4,836.8 899.0,883.0" fill="#000"/>
<line x1="1283.0" y1="390.4" x2="1280.7" y2="851.0" stroke="#000" stroke-width="3.0"/><polygon points="1269.1,848.9 1292.3,849.1 1280.5,896.0" fill="#000"/>
<line x1="1791.7" y1="1178.0" x2="1786.1" y2="1346.7" stroke="#000" stroke-width="3.0"/><polygon points="1774.6,1344.3 1797.8,1345.1 1784.6,1391.7" fill="#000"/>
<line x1="2121.0" y1="1127.7" x2="2117.9" y2="1281.0" stroke="#000" stroke-width="3.0"/><polygon points="2106.4,1278.8 2129.5,1279.2 2117.0,1326.0" fill="#000"/>
<g stroke-width="14" stroke-linecap="round">
<line x1="1582.3" y1="127.1" x2="1762" y2="127.1" stroke="#800000"/>
<line x1="1582.3" y1="244.2" x2="1762" y2="244.2" stroke="#000080"/>
</g>
<text x="1784.5" y="154.7" font-size="82">Pt/Ce/Z-R<tspan font-size="55" dx="-3" dy="20.6">170</tspan></text>
<text x="1784.5" y="272.2" font-size="82">Pt/Z</text>
</svg>
</body></html>
